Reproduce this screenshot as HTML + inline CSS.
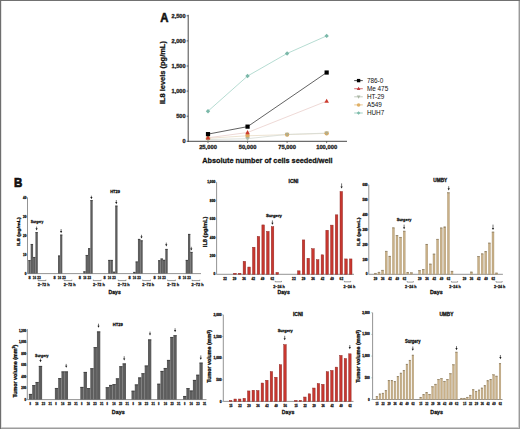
<!DOCTYPE html>
<html><head><meta charset="utf-8"><style>
html,body{margin:0;padding:0;background:#fff;}
body{width:520px;height:429px;overflow:hidden;}
svg{display:block;font-family:"Liberation Sans", sans-serif;}
</style></head><body>
<svg width="520" height="429" viewBox="0 0 520 429">
<rect x="0" y="0" width="520" height="429" fill="#fff"/>
<rect x="518" y="0" width="1" height="429" fill="#d2d2d2"/>
<rect x="0" y="427" width="520" height="1" fill="#cdcdcd"/>
<rect x="519" y="0" width="1" height="429" fill="#9a9a9a"/>
<rect x="0" y="428" width="520" height="1" fill="#9c9c9c"/>
<rect x="0" y="0" width="520" height="1" fill="#717171"/>
<rect x="0" y="0" width="1" height="429" fill="#6e6e6e"/>
<rect x="1" y="1" width="1" height="426" fill="#e4e4e4"/>
<text x="160.20" y="21.80" font-size="12.4" text-anchor="start" font-weight="bold" fill="#111" textLength="8.20" lengthAdjust="spacingAndGlyphs" stroke="#111" stroke-width="0.55">A</text>
<line x1="188.20" y1="14.80" x2="188.20" y2="141.80" stroke="#333" stroke-width="0.9"/>
<line x1="187.80" y1="141.30" x2="347.00" y2="141.30" stroke="#333" stroke-width="0.9"/>
<line x1="186.60" y1="15.80" x2="188.20" y2="15.80" stroke="#333" stroke-width="0.7"/>
<text x="185.60" y="17.80" font-size="5.6" text-anchor="end" font-weight="bold" fill="#222"  stroke="#222" stroke-width="0.28">2,500</text>
<line x1="186.60" y1="40.90" x2="188.20" y2="40.90" stroke="#333" stroke-width="0.7"/>
<text x="185.60" y="42.90" font-size="5.6" text-anchor="end" font-weight="bold" fill="#222"  stroke="#222" stroke-width="0.28">2,000</text>
<line x1="186.60" y1="66.00" x2="188.20" y2="66.00" stroke="#333" stroke-width="0.7"/>
<text x="185.60" y="68.00" font-size="5.6" text-anchor="end" font-weight="bold" fill="#222"  stroke="#222" stroke-width="0.28">1,500</text>
<line x1="186.60" y1="91.10" x2="188.20" y2="91.10" stroke="#333" stroke-width="0.7"/>
<text x="185.60" y="93.10" font-size="5.6" text-anchor="end" font-weight="bold" fill="#222"  stroke="#222" stroke-width="0.28">1,000</text>
<line x1="186.60" y1="116.20" x2="188.20" y2="116.20" stroke="#333" stroke-width="0.7"/>
<text x="185.60" y="118.20" font-size="5.6" text-anchor="end" font-weight="bold" fill="#222"  stroke="#222" stroke-width="0.28">500</text>
<line x1="186.60" y1="141.30" x2="188.20" y2="141.30" stroke="#333" stroke-width="0.7"/>
<text x="185.60" y="143.30" font-size="5.6" text-anchor="end" font-weight="bold" fill="#222"  stroke="#222" stroke-width="0.28">0</text>
<line x1="208.00" y1="141.30" x2="208.00" y2="143.10" stroke="#333" stroke-width="0.7"/>
<text x="208.00" y="149.30" font-size="5.8" text-anchor="middle" font-weight="bold" fill="#222"  stroke="#222" stroke-width="0.28">25,000</text>
<line x1="247.55" y1="141.30" x2="247.55" y2="143.10" stroke="#333" stroke-width="0.7"/>
<text x="247.55" y="149.30" font-size="5.8" text-anchor="middle" font-weight="bold" fill="#222"  stroke="#222" stroke-width="0.28">50,000</text>
<line x1="287.10" y1="141.30" x2="287.10" y2="143.10" stroke="#333" stroke-width="0.7"/>
<text x="287.10" y="149.30" font-size="5.8" text-anchor="middle" font-weight="bold" fill="#222"  stroke="#222" stroke-width="0.28">75,000</text>
<line x1="326.65" y1="141.30" x2="326.65" y2="143.10" stroke="#333" stroke-width="0.7"/>
<text x="326.65" y="149.30" font-size="5.8" text-anchor="middle" font-weight="bold" fill="#222"  stroke="#222" stroke-width="0.28">100,000</text>
<text transform="translate(165.10,72.60) rotate(-90)" font-size="7.3" text-anchor="middle" font-weight="bold" fill="#111" stroke="#111" stroke-width="0.28" textLength="63.00" lengthAdjust="spacingAndGlyphs">IL8 levels (pg/mL)</text>
<text x="267.45" y="162.60" font-size="8.0" text-anchor="middle" font-weight="bold" fill="#111" textLength="130.30" lengthAdjust="spacingAndGlyphs"  stroke="#111" stroke-width="0.28">Absolute number of cells seeded/well</text>
<polyline points="208.00,111.18 247.55,76.04 287.10,53.45 326.65,35.88" fill="none" stroke="#a3d3c6" stroke-width="0.8"/>
<polyline points="208.00,138.29 247.55,135.78 287.10,134.62 326.65,133.37" fill="none" stroke="#e8dcc6" stroke-width="0.8"/>
<polyline points="208.00,139.54 247.55,138.69 287.10,134.42 326.65,133.12" fill="none" stroke="#d6dbd3" stroke-width="0.8"/>
<polyline points="208.00,137.79 247.55,132.52 326.65,101.14" fill="none" stroke="#eacfcc" stroke-width="0.8"/>
<polyline points="208.00,134.12 247.55,126.64 326.65,72.53" fill="none" stroke="#3a3a3a" stroke-width="0.8"/>
<path d="M208.00 108.98 L210.20 111.18 L208.00 113.38 L205.80 111.18 Z" fill="#7bb8a9"/>
<path d="M247.55 73.84 L249.75 76.04 L247.55 78.24 L245.35 76.04 Z" fill="#7bb8a9"/>
<path d="M287.10 51.25 L289.30 53.45 L287.10 55.65 L284.90 53.45 Z" fill="#7bb8a9"/>
<path d="M326.65 33.68 L328.85 35.88 L326.65 38.08 L324.45 35.88 Z" fill="#7bb8a9"/>
<circle cx="208.00" cy="138.29" r="2.2" fill="#dfaa5e"/>
<circle cx="247.55" cy="135.78" r="2.2" fill="#dfaa5e"/>
<circle cx="287.10" cy="134.62" r="2.2" fill="#dfaa5e"/>
<circle cx="326.65" cy="133.37" r="2.2" fill="#dfaa5e"/>
<g opacity="0.75">
<path d="M208.00 142.04 L210.30 137.84 L205.70 137.84 Z" fill="#a3b09c"/>
<path d="M247.55 141.19 L249.85 136.99 L245.25 136.99 Z" fill="#a3b09c"/>
<path d="M287.10 136.92 L289.40 132.72 L284.80 132.72 Z" fill="#a3b09c"/>
<path d="M326.65 135.62 L328.95 131.42 L324.35 131.42 Z" fill="#a3b09c"/>
</g>
<path d="M208.00 135.29 L210.30 139.49 L205.70 139.49 Z" fill="#cc3b2e"/>
<path d="M247.55 130.02 L249.85 134.22 L245.25 134.22 Z" fill="#cc3b2e"/>
<path d="M326.65 98.64 L328.95 102.84 L324.35 102.84 Z" fill="#cc3b2e"/>
<rect x="205.90" y="132.02" width="4.20" height="4.20" fill="#000" stroke="none" stroke-width="0"/>
<rect x="245.45" y="124.54" width="4.20" height="4.20" fill="#000" stroke="none" stroke-width="0"/>
<rect x="324.55" y="70.43" width="4.20" height="4.20" fill="#000" stroke="none" stroke-width="0"/>
<line x1="354.20" y1="80.60" x2="362.80" y2="80.60" stroke="#000" stroke-width="0.7"/>
<g transform="translate(358.60,80.60) scale(0.8) translate(-358.60,-80.60)">
<rect x="356.50" y="78.50" width="4.20" height="4.20" fill="#000" stroke="none" stroke-width="0"/>
</g>
<text x="366.90" y="82.80" font-size="6.4" text-anchor="start" font-weight="normal" fill="#111" >786-0</text>
<line x1="354.20" y1="88.70" x2="362.80" y2="88.70" stroke="#c03a3c" stroke-width="0.7"/>
<g transform="translate(358.60,88.70) scale(0.8) translate(-358.60,-88.70)">
<path d="M358.60 86.20 L360.90 90.40 L356.30 90.40 Z" fill="#c03a3c"/>
</g>
<text x="366.90" y="90.90" font-size="6.4" text-anchor="start" font-weight="normal" fill="#111" >Me 475</text>
<line x1="354.20" y1="96.80" x2="362.80" y2="96.80" stroke="#aab6a4" stroke-width="0.7"/>
<g transform="translate(358.60,96.80) scale(0.8) translate(-358.60,-96.80)">
<path d="M358.60 99.30 L360.90 95.10 L356.30 95.10 Z" fill="#aab6a4"/>
</g>
<text x="366.90" y="99.00" font-size="6.4" text-anchor="start" font-weight="normal" fill="#111" >HT-29</text>
<line x1="354.20" y1="104.90" x2="362.80" y2="104.90" stroke="#e0b066" stroke-width="0.7"/>
<g transform="translate(358.60,104.90) scale(0.8) translate(-358.60,-104.90)">
<circle cx="358.60" cy="104.90" r="2.2" fill="#e0b066"/>
</g>
<text x="366.90" y="107.10" font-size="6.4" text-anchor="start" font-weight="normal" fill="#111" >A549</text>
<line x1="354.20" y1="113.00" x2="362.80" y2="113.00" stroke="#7dbcaa" stroke-width="0.7"/>
<g transform="translate(358.60,113.00) scale(0.8) translate(-358.60,-113.00)">
<path d="M358.60 110.80 L360.80 113.00 L358.60 115.20 L356.40 113.00 Z" fill="#7dbcaa"/>
</g>
<text x="366.90" y="115.20" font-size="6.4" text-anchor="start" font-weight="normal" fill="#111" >HUH7</text>
<text x="13.90" y="186.70" font-size="12.2" text-anchor="start" font-weight="bold" fill="#111" textLength="8.30" lengthAdjust="spacingAndGlyphs" stroke="#111" stroke-width="0.7">B</text>
<line x1="27.50" y1="197.50" x2="27.50" y2="273.60" stroke="#888" stroke-width="0.9"/>
<line x1="26.20" y1="197.50" x2="27.50" y2="197.50" stroke="#888" stroke-width="0.5"/>
<text x="26.30" y="198.54" font-size="2.9" text-anchor="end" font-weight="bold" fill="#1a1a1a"  stroke="#1a1a1a" stroke-width="0.28">40</text>
<line x1="26.20" y1="216.50" x2="27.50" y2="216.50" stroke="#888" stroke-width="0.5"/>
<text x="26.30" y="217.54" font-size="2.9" text-anchor="end" font-weight="bold" fill="#1a1a1a"  stroke="#1a1a1a" stroke-width="0.28">30</text>
<line x1="26.20" y1="235.50" x2="27.50" y2="235.50" stroke="#888" stroke-width="0.5"/>
<text x="26.30" y="236.54" font-size="2.9" text-anchor="end" font-weight="bold" fill="#1a1a1a"  stroke="#1a1a1a" stroke-width="0.28">20</text>
<line x1="26.20" y1="254.60" x2="27.50" y2="254.60" stroke="#888" stroke-width="0.5"/>
<text x="26.30" y="255.64" font-size="2.9" text-anchor="end" font-weight="bold" fill="#1a1a1a"  stroke="#1a1a1a" stroke-width="0.28">10</text>
<line x1="26.20" y1="273.60" x2="27.50" y2="273.60" stroke="#888" stroke-width="0.5"/>
<text x="26.30" y="274.64" font-size="2.9" text-anchor="end" font-weight="bold" fill="#1a1a1a"  stroke="#1a1a1a" stroke-width="0.28">0</text>
<line x1="27.50" y1="273.60" x2="201.00" y2="273.60" stroke="#888" stroke-width="0.9"/>
<rect x="28.30" y="260.20" width="2.38" height="13.40" fill="#5d5d5d" stroke="none" stroke-width="0"/>
<line x1="28.30" y1="260.55" x2="30.68" y2="260.55" stroke="#333" stroke-width="0.7"/>
<rect x="30.68" y="244.10" width="2.38" height="29.50" fill="#5d5d5d" stroke="none" stroke-width="0"/>
<line x1="30.68" y1="244.45" x2="33.05" y2="244.45" stroke="#333" stroke-width="0.7"/>
<rect x="33.05" y="257.10" width="2.38" height="16.50" fill="#5d5d5d" stroke="none" stroke-width="0"/>
<line x1="33.05" y1="257.45" x2="35.42" y2="257.45" stroke="#333" stroke-width="0.7"/>
<rect x="35.42" y="232.20" width="2.38" height="41.40" fill="#5d5d5d" stroke="none" stroke-width="0"/>
<line x1="35.42" y1="232.55" x2="37.80" y2="232.55" stroke="#333" stroke-width="0.7"/>
<line x1="30.68" y1="260.90" x2="30.68" y2="273.60" stroke="#808080" stroke-width="0.45"/>
<line x1="33.05" y1="257.80" x2="33.05" y2="273.60" stroke="#808080" stroke-width="0.45"/>
<line x1="35.42" y1="257.80" x2="35.42" y2="273.60" stroke="#808080" stroke-width="0.45"/>
<rect x="58.00" y="255.60" width="2.15" height="18.00" fill="#5d5d5d" stroke="none" stroke-width="0"/>
<line x1="58.00" y1="255.95" x2="60.15" y2="255.95" stroke="#333" stroke-width="0.7"/>
<rect x="60.15" y="234.70" width="2.15" height="38.90" fill="#5d5d5d" stroke="none" stroke-width="0"/>
<line x1="60.15" y1="235.05" x2="62.30" y2="235.05" stroke="#333" stroke-width="0.7"/>
<line x1="60.15" y1="256.30" x2="60.15" y2="273.60" stroke="#808080" stroke-width="0.45"/>
<rect x="83.30" y="271.40" width="2.35" height="2.20" fill="#5d5d5d" stroke="none" stroke-width="0"/>
<line x1="83.30" y1="271.75" x2="85.65" y2="271.75" stroke="#333" stroke-width="0.7"/>
<rect x="85.65" y="255.10" width="2.35" height="18.50" fill="#5d5d5d" stroke="none" stroke-width="0"/>
<line x1="85.65" y1="255.45" x2="88.00" y2="255.45" stroke="#333" stroke-width="0.7"/>
<rect x="88.00" y="248.30" width="2.35" height="25.30" fill="#5d5d5d" stroke="none" stroke-width="0"/>
<line x1="88.00" y1="248.65" x2="90.35" y2="248.65" stroke="#333" stroke-width="0.7"/>
<rect x="90.35" y="200.20" width="2.35" height="73.40" fill="#5d5d5d" stroke="none" stroke-width="0"/>
<line x1="90.35" y1="200.55" x2="92.70" y2="200.55" stroke="#333" stroke-width="0.7"/>
<line x1="85.65" y1="272.10" x2="85.65" y2="273.60" stroke="#808080" stroke-width="0.45"/>
<line x1="88.00" y1="255.80" x2="88.00" y2="273.60" stroke="#808080" stroke-width="0.45"/>
<line x1="90.35" y1="249.00" x2="90.35" y2="273.60" stroke="#808080" stroke-width="0.45"/>
<rect x="108.20" y="260.00" width="2.33" height="13.60" fill="#5d5d5d" stroke="none" stroke-width="0"/>
<line x1="108.20" y1="260.35" x2="110.53" y2="260.35" stroke="#333" stroke-width="0.7"/>
<rect x="110.53" y="260.00" width="2.33" height="13.60" fill="#5d5d5d" stroke="none" stroke-width="0"/>
<line x1="110.53" y1="260.35" x2="112.86" y2="260.35" stroke="#333" stroke-width="0.7"/>
<rect x="112.86" y="271.80" width="2.33" height="1.80" fill="#5d5d5d" stroke="none" stroke-width="0"/>
<line x1="112.86" y1="272.15" x2="115.19" y2="272.15" stroke="#333" stroke-width="0.7"/>
<rect x="115.19" y="205.70" width="2.33" height="67.90" fill="#5d5d5d" stroke="none" stroke-width="0"/>
<line x1="115.19" y1="206.05" x2="117.52" y2="206.05" stroke="#333" stroke-width="0.7"/>
<line x1="110.53" y1="260.70" x2="110.53" y2="273.60" stroke="#808080" stroke-width="0.45"/>
<line x1="112.86" y1="272.50" x2="112.86" y2="273.60" stroke="#808080" stroke-width="0.45"/>
<line x1="115.19" y1="272.50" x2="115.19" y2="273.60" stroke="#808080" stroke-width="0.45"/>
<rect x="133.20" y="272.00" width="2.38" height="1.60" fill="#5d5d5d" stroke="none" stroke-width="0"/>
<line x1="133.20" y1="272.35" x2="135.57" y2="272.35" stroke="#333" stroke-width="0.7"/>
<rect x="135.57" y="261.60" width="2.38" height="12.00" fill="#5d5d5d" stroke="none" stroke-width="0"/>
<line x1="135.57" y1="261.95" x2="137.95" y2="261.95" stroke="#333" stroke-width="0.7"/>
<rect x="137.95" y="239.00" width="2.38" height="34.60" fill="#5d5d5d" stroke="none" stroke-width="0"/>
<line x1="137.95" y1="239.35" x2="140.32" y2="239.35" stroke="#333" stroke-width="0.7"/>
<rect x="140.32" y="240.40" width="2.38" height="33.20" fill="#5d5d5d" stroke="none" stroke-width="0"/>
<line x1="140.32" y1="240.75" x2="142.70" y2="240.75" stroke="#333" stroke-width="0.7"/>
<line x1="135.57" y1="272.70" x2="135.57" y2="273.60" stroke="#808080" stroke-width="0.45"/>
<line x1="137.95" y1="262.30" x2="137.95" y2="273.60" stroke="#808080" stroke-width="0.45"/>
<line x1="140.32" y1="241.10" x2="140.32" y2="273.60" stroke="#808080" stroke-width="0.45"/>
<rect x="158.10" y="260.30" width="2.40" height="13.30" fill="#5d5d5d" stroke="none" stroke-width="0"/>
<line x1="158.10" y1="260.65" x2="160.50" y2="260.65" stroke="#333" stroke-width="0.7"/>
<rect x="160.50" y="258.60" width="2.40" height="15.00" fill="#5d5d5d" stroke="none" stroke-width="0"/>
<line x1="160.50" y1="258.95" x2="162.90" y2="258.95" stroke="#333" stroke-width="0.7"/>
<rect x="162.90" y="259.90" width="2.40" height="13.70" fill="#5d5d5d" stroke="none" stroke-width="0"/>
<line x1="162.90" y1="260.25" x2="165.30" y2="260.25" stroke="#333" stroke-width="0.7"/>
<rect x="165.30" y="249.00" width="2.40" height="24.60" fill="#5d5d5d" stroke="none" stroke-width="0"/>
<line x1="165.30" y1="249.35" x2="167.70" y2="249.35" stroke="#333" stroke-width="0.7"/>
<line x1="160.50" y1="261.00" x2="160.50" y2="273.60" stroke="#808080" stroke-width="0.45"/>
<line x1="162.90" y1="260.60" x2="162.90" y2="273.60" stroke="#808080" stroke-width="0.45"/>
<line x1="165.30" y1="260.60" x2="165.30" y2="273.60" stroke="#808080" stroke-width="0.45"/>
<rect x="185.70" y="260.00" width="2.30" height="13.60" fill="#5d5d5d" stroke="none" stroke-width="0"/>
<line x1="185.70" y1="260.35" x2="188.00" y2="260.35" stroke="#333" stroke-width="0.7"/>
<rect x="188.00" y="234.00" width="2.30" height="39.60" fill="#5d5d5d" stroke="none" stroke-width="0"/>
<line x1="188.00" y1="234.35" x2="190.30" y2="234.35" stroke="#333" stroke-width="0.7"/>
<rect x="190.30" y="252.00" width="2.30" height="21.60" fill="#5d5d5d" stroke="none" stroke-width="0"/>
<line x1="190.30" y1="252.35" x2="192.60" y2="252.35" stroke="#333" stroke-width="0.7"/>
<line x1="188.00" y1="260.70" x2="188.00" y2="273.60" stroke="#808080" stroke-width="0.45"/>
<line x1="190.30" y1="252.70" x2="190.30" y2="273.60" stroke="#808080" stroke-width="0.45"/>
<line x1="36.60" y1="226.60" x2="36.60" y2="228.80" stroke="#1a1a1a" stroke-width="0.6"/>
<path d="M35.50 228.30 L37.70 228.30 L36.60 230.40 Z" fill="#1a1a1a"/>
<line x1="61.10" y1="229.00" x2="61.10" y2="231.60" stroke="#1a1a1a" stroke-width="0.6"/>
<path d="M60.00 231.10 L62.20 231.10 L61.10 233.20 Z" fill="#1a1a1a"/>
<line x1="91.40" y1="195.70" x2="91.40" y2="197.60" stroke="#1a1a1a" stroke-width="0.6"/>
<path d="M90.30 197.10 L92.50 197.10 L91.40 199.20 Z" fill="#1a1a1a"/>
<line x1="116.30" y1="200.00" x2="116.30" y2="202.60" stroke="#1a1a1a" stroke-width="0.6"/>
<path d="M115.20 202.10 L117.40 202.10 L116.30 204.20 Z" fill="#1a1a1a"/>
<line x1="141.50" y1="234.80" x2="141.50" y2="237.00" stroke="#1a1a1a" stroke-width="0.6"/>
<path d="M140.40 236.50 L142.60 236.50 L141.50 238.60 Z" fill="#1a1a1a"/>
<line x1="166.30" y1="242.60" x2="166.30" y2="244.80" stroke="#1a1a1a" stroke-width="0.6"/>
<path d="M165.20 244.30 L167.40 244.30 L166.30 246.40 Z" fill="#1a1a1a"/>
<line x1="191.30" y1="246.80" x2="191.30" y2="249.00" stroke="#1a1a1a" stroke-width="0.6"/>
<path d="M190.20 248.50 L192.40 248.50 L191.30 250.60 Z" fill="#1a1a1a"/>
<text x="115.05" y="193.20" font-size="4.3" text-anchor="middle" font-weight="bold" fill="#111" textLength="9.70" lengthAdjust="spacingAndGlyphs"  stroke="#111" stroke-width="0.28">HT29</text>
<text x="37.00" y="223.10" font-size="4.3" text-anchor="middle" font-weight="bold" fill="#111" textLength="12.50" lengthAdjust="spacingAndGlyphs"  stroke="#111" stroke-width="0.28">Surgery</text>
<text x="29.50" y="278.80" font-size="3.9" text-anchor="middle" font-weight="bold" fill="#222"  stroke="#222" stroke-width="0.28">8</text>
<text x="34.40" y="278.80" font-size="3.9" text-anchor="middle" font-weight="bold" fill="#222" textLength="3.30" lengthAdjust="spacingAndGlyphs"  stroke="#222" stroke-width="0.28">16</text>
<text x="38.90" y="278.80" font-size="3.9" text-anchor="middle" font-weight="bold" fill="#222" textLength="3.50" lengthAdjust="spacingAndGlyphs"  stroke="#222" stroke-width="0.28">23</text>
<path d="M38.10 279.70 L38.10 280.60 L45.90 280.60 L45.90 279.70" fill="none" stroke="#333" stroke-width="0.5"/>
<text x="43.65" y="285.70" font-size="3.9" text-anchor="middle" font-weight="bold" fill="#222" textLength="11.90" lengthAdjust="spacingAndGlyphs"  stroke="#222" stroke-width="0.28">2–72 h</text>
<text x="54.60" y="278.80" font-size="3.9" text-anchor="middle" font-weight="bold" fill="#222"  stroke="#222" stroke-width="0.28">8</text>
<text x="59.50" y="278.80" font-size="3.9" text-anchor="middle" font-weight="bold" fill="#222" textLength="3.30" lengthAdjust="spacingAndGlyphs"  stroke="#222" stroke-width="0.28">16</text>
<text x="64.00" y="278.80" font-size="3.9" text-anchor="middle" font-weight="bold" fill="#222" textLength="3.50" lengthAdjust="spacingAndGlyphs"  stroke="#222" stroke-width="0.28">23</text>
<path d="M64.10 279.70 L64.10 280.60 L71.90 280.60 L71.90 279.70" fill="none" stroke="#333" stroke-width="0.5"/>
<text x="69.65" y="285.70" font-size="3.9" text-anchor="middle" font-weight="bold" fill="#222" textLength="11.90" lengthAdjust="spacingAndGlyphs"  stroke="#222" stroke-width="0.28">2–72 h</text>
<text x="79.90" y="278.80" font-size="3.9" text-anchor="middle" font-weight="bold" fill="#222"  stroke="#222" stroke-width="0.28">8</text>
<text x="84.80" y="278.80" font-size="3.9" text-anchor="middle" font-weight="bold" fill="#222" textLength="3.30" lengthAdjust="spacingAndGlyphs"  stroke="#222" stroke-width="0.28">16</text>
<text x="89.30" y="278.80" font-size="3.9" text-anchor="middle" font-weight="bold" fill="#222" textLength="3.50" lengthAdjust="spacingAndGlyphs"  stroke="#222" stroke-width="0.28">23</text>
<path d="M93.30 279.70 L93.30 280.60 L101.10 280.60 L101.10 279.70" fill="none" stroke="#333" stroke-width="0.5"/>
<text x="98.85" y="285.70" font-size="3.9" text-anchor="middle" font-weight="bold" fill="#222" textLength="11.90" lengthAdjust="spacingAndGlyphs"  stroke="#222" stroke-width="0.28">2–72 h</text>
<text x="104.60" y="278.80" font-size="3.9" text-anchor="middle" font-weight="bold" fill="#222"  stroke="#222" stroke-width="0.28">8</text>
<text x="109.50" y="278.80" font-size="3.9" text-anchor="middle" font-weight="bold" fill="#222" textLength="3.30" lengthAdjust="spacingAndGlyphs"  stroke="#222" stroke-width="0.28">16</text>
<text x="114.00" y="278.80" font-size="3.9" text-anchor="middle" font-weight="bold" fill="#222" textLength="3.50" lengthAdjust="spacingAndGlyphs"  stroke="#222" stroke-width="0.28">23</text>
<path d="M118.20 279.70 L118.20 280.60 L126.00 280.60 L126.00 279.70" fill="none" stroke="#333" stroke-width="0.5"/>
<text x="123.75" y="285.70" font-size="3.9" text-anchor="middle" font-weight="bold" fill="#222" textLength="11.90" lengthAdjust="spacingAndGlyphs"  stroke="#222" stroke-width="0.28">2–72 h</text>
<text x="129.60" y="278.80" font-size="3.9" text-anchor="middle" font-weight="bold" fill="#222"  stroke="#222" stroke-width="0.28">8</text>
<text x="134.50" y="278.80" font-size="3.9" text-anchor="middle" font-weight="bold" fill="#222" textLength="3.30" lengthAdjust="spacingAndGlyphs"  stroke="#222" stroke-width="0.28">16</text>
<text x="139.00" y="278.80" font-size="3.9" text-anchor="middle" font-weight="bold" fill="#222" textLength="3.50" lengthAdjust="spacingAndGlyphs"  stroke="#222" stroke-width="0.28">23</text>
<path d="M142.70 279.70 L142.70 280.60 L150.50 280.60 L150.50 279.70" fill="none" stroke="#333" stroke-width="0.5"/>
<text x="148.25" y="285.70" font-size="3.9" text-anchor="middle" font-weight="bold" fill="#222" textLength="11.90" lengthAdjust="spacingAndGlyphs"  stroke="#222" stroke-width="0.28">2–72 h</text>
<text x="154.60" y="278.80" font-size="3.9" text-anchor="middle" font-weight="bold" fill="#222"  stroke="#222" stroke-width="0.28">8</text>
<text x="159.50" y="278.80" font-size="3.9" text-anchor="middle" font-weight="bold" fill="#222" textLength="3.30" lengthAdjust="spacingAndGlyphs"  stroke="#222" stroke-width="0.28">16</text>
<text x="164.00" y="278.80" font-size="3.9" text-anchor="middle" font-weight="bold" fill="#222" textLength="3.50" lengthAdjust="spacingAndGlyphs"  stroke="#222" stroke-width="0.28">23</text>
<path d="M167.60 279.70 L167.60 280.60 L175.40 280.60 L175.40 279.70" fill="none" stroke="#333" stroke-width="0.5"/>
<text x="173.15" y="285.70" font-size="3.9" text-anchor="middle" font-weight="bold" fill="#222" textLength="11.90" lengthAdjust="spacingAndGlyphs"  stroke="#222" stroke-width="0.28">2–72 h</text>
<text x="179.60" y="278.80" font-size="3.9" text-anchor="middle" font-weight="bold" fill="#222"  stroke="#222" stroke-width="0.28">8</text>
<text x="184.50" y="278.80" font-size="3.9" text-anchor="middle" font-weight="bold" fill="#222" textLength="3.30" lengthAdjust="spacingAndGlyphs"  stroke="#222" stroke-width="0.28">16</text>
<text x="189.00" y="278.80" font-size="3.9" text-anchor="middle" font-weight="bold" fill="#222" textLength="3.50" lengthAdjust="spacingAndGlyphs"  stroke="#222" stroke-width="0.28">23</text>
<path d="M192.00 279.70 L192.00 280.60 L199.80 280.60 L199.80 279.70" fill="none" stroke="#333" stroke-width="0.5"/>
<text x="197.55" y="285.70" font-size="3.9" text-anchor="middle" font-weight="bold" fill="#222" textLength="11.90" lengthAdjust="spacingAndGlyphs"  stroke="#222" stroke-width="0.28">2–72 h</text>
<text transform="translate(19.65,231.60) rotate(-90)" font-size="4.0" text-anchor="middle" font-weight="bold" fill="#111" stroke="#111" stroke-width="0.28" textLength="29.00" lengthAdjust="spacingAndGlyphs">IL8 (pg/mL)</text>
<text x="114.65" y="293.80" font-size="5.6" text-anchor="middle" font-weight="bold" fill="#111" textLength="12.30" lengthAdjust="spacingAndGlyphs"  stroke="#111" stroke-width="0.28">Days</text>
<line x1="216.60" y1="182.20" x2="216.60" y2="274.30" stroke="#888" stroke-width="0.9"/>
<line x1="215.30" y1="182.20" x2="216.60" y2="182.20" stroke="#888" stroke-width="0.5"/>
<text x="215.20" y="183.35" font-size="3.2" text-anchor="end" font-weight="bold" fill="#1a1a1a"  stroke="#1a1a1a" stroke-width="0.28">1,000</text>
<line x1="215.30" y1="200.60" x2="216.60" y2="200.60" stroke="#888" stroke-width="0.5"/>
<text x="215.20" y="201.75" font-size="3.2" text-anchor="end" font-weight="bold" fill="#1a1a1a"  stroke="#1a1a1a" stroke-width="0.28">800</text>
<line x1="215.30" y1="219.00" x2="216.60" y2="219.00" stroke="#888" stroke-width="0.5"/>
<text x="215.20" y="220.15" font-size="3.2" text-anchor="end" font-weight="bold" fill="#1a1a1a"  stroke="#1a1a1a" stroke-width="0.28">600</text>
<line x1="215.30" y1="237.50" x2="216.60" y2="237.50" stroke="#888" stroke-width="0.5"/>
<text x="215.20" y="238.65" font-size="3.2" text-anchor="end" font-weight="bold" fill="#1a1a1a"  stroke="#1a1a1a" stroke-width="0.28">400</text>
<line x1="215.30" y1="255.90" x2="216.60" y2="255.90" stroke="#888" stroke-width="0.5"/>
<text x="215.20" y="257.05" font-size="3.2" text-anchor="end" font-weight="bold" fill="#1a1a1a"  stroke="#1a1a1a" stroke-width="0.28">200</text>
<line x1="215.30" y1="274.30" x2="216.60" y2="274.30" stroke="#888" stroke-width="0.5"/>
<text x="215.20" y="275.45" font-size="3.2" text-anchor="end" font-weight="bold" fill="#1a1a1a"  stroke="#1a1a1a" stroke-width="0.28">0</text>
<line x1="216.60" y1="274.30" x2="354.00" y2="274.30" stroke="#888" stroke-width="0.9"/>
<rect x="233.74" y="273.23" width="2.55" height="1.08" fill="#c8372f" stroke="#8c2622" stroke-width="0.45"/>
<rect x="238.43" y="273.23" width="2.55" height="1.08" fill="#c8372f" stroke="#8c2622" stroke-width="0.45"/>
<rect x="243.12" y="261.33" width="2.55" height="12.97" fill="#c8372f" stroke="#8c2622" stroke-width="0.45"/>
<rect x="247.81" y="267.03" width="2.55" height="7.28" fill="#c8372f" stroke="#8c2622" stroke-width="0.45"/>
<rect x="252.50" y="247.22" width="2.55" height="27.08" fill="#c8372f" stroke="#8c2622" stroke-width="0.45"/>
<rect x="257.19" y="236.42" width="2.55" height="37.88" fill="#c8372f" stroke="#8c2622" stroke-width="0.45"/>
<rect x="261.88" y="224.92" width="2.55" height="49.38" fill="#c8372f" stroke="#8c2622" stroke-width="0.45"/>
<rect x="266.58" y="231.42" width="2.55" height="42.88" fill="#c8372f" stroke="#8c2622" stroke-width="0.45"/>
<rect x="271.26" y="226.72" width="2.55" height="47.58" fill="#c8372f" stroke="#8c2622" stroke-width="0.45"/>
<rect x="275.96" y="272.43" width="2.55" height="1.88" fill="#c8372f" stroke="#8c2622" stroke-width="0.45"/>
<rect x="297.53" y="270.83" width="2.55" height="3.47" fill="#c8372f" stroke="#8c2622" stroke-width="0.45"/>
<rect x="302.25" y="239.92" width="2.55" height="34.38" fill="#c8372f" stroke="#8c2622" stroke-width="0.45"/>
<rect x="306.97" y="258.23" width="2.55" height="16.08" fill="#c8372f" stroke="#8c2622" stroke-width="0.45"/>
<rect x="311.69" y="248.72" width="2.55" height="25.58" fill="#c8372f" stroke="#8c2622" stroke-width="0.45"/>
<rect x="316.41" y="259.73" width="2.55" height="14.58" fill="#c8372f" stroke="#8c2622" stroke-width="0.45"/>
<rect x="321.13" y="254.82" width="2.55" height="19.48" fill="#c8372f" stroke="#8c2622" stroke-width="0.45"/>
<rect x="325.85" y="230.22" width="2.55" height="44.08" fill="#c8372f" stroke="#8c2622" stroke-width="0.45"/>
<rect x="330.57" y="225.12" width="2.55" height="49.18" fill="#c8372f" stroke="#8c2622" stroke-width="0.45"/>
<rect x="335.29" y="214.82" width="2.55" height="59.48" fill="#c8372f" stroke="#8c2622" stroke-width="0.45"/>
<rect x="340.01" y="191.53" width="2.55" height="82.78" fill="#c8372f" stroke="#8c2622" stroke-width="0.45"/>
<rect x="344.73" y="258.93" width="2.55" height="15.38" fill="#c8372f" stroke="#8c2622" stroke-width="0.45"/>
<rect x="349.45" y="258.93" width="2.55" height="15.38" fill="#c8372f" stroke="#8c2622" stroke-width="0.45"/>
<text x="293.55" y="182.50" font-size="4.7" text-anchor="middle" font-weight="bold" fill="#111" textLength="9.90" lengthAdjust="spacingAndGlyphs"  stroke="#111" stroke-width="0.28">ICNI</text>
<text x="273.95" y="217.00" font-size="4.3" text-anchor="middle" font-weight="bold" fill="#111" textLength="16.10" lengthAdjust="spacingAndGlyphs"  stroke="#111" stroke-width="0.28">Surgery</text>
<line x1="272.40" y1="220.40" x2="272.40" y2="223.20" stroke="#1a1a1a" stroke-width="0.6"/>
<path d="M271.30 222.70 L273.50 222.70 L272.40 224.80 Z" fill="#1a1a1a"/>
<line x1="341.60" y1="183.40" x2="341.60" y2="186.90" stroke="#1a1a1a" stroke-width="0.6"/>
<path d="M340.50 186.40 L342.70 186.40 L341.60 188.50 Z" fill="#1a1a1a"/>
<text x="225.00" y="279.70" font-size="3.7" text-anchor="middle" font-weight="bold" fill="#222" textLength="3.60" lengthAdjust="spacingAndGlyphs"  stroke="#222" stroke-width="0.28">22</text>
<text x="234.60" y="279.70" font-size="3.7" text-anchor="middle" font-weight="bold" fill="#222" textLength="3.60" lengthAdjust="spacingAndGlyphs"  stroke="#222" stroke-width="0.28">29</text>
<text x="244.00" y="279.70" font-size="3.7" text-anchor="middle" font-weight="bold" fill="#222" textLength="3.60" lengthAdjust="spacingAndGlyphs"  stroke="#222" stroke-width="0.28">36</text>
<text x="253.30" y="279.70" font-size="3.7" text-anchor="middle" font-weight="bold" fill="#222" textLength="3.60" lengthAdjust="spacingAndGlyphs"  stroke="#222" stroke-width="0.28">42</text>
<text x="262.60" y="279.70" font-size="3.7" text-anchor="middle" font-weight="bold" fill="#222" textLength="3.60" lengthAdjust="spacingAndGlyphs"  stroke="#222" stroke-width="0.28">49</text>
<text x="272.20" y="279.70" font-size="3.7" text-anchor="middle" font-weight="bold" fill="#222" textLength="3.60" lengthAdjust="spacingAndGlyphs"  stroke="#222" stroke-width="0.28">62</text>
<text x="293.90" y="279.70" font-size="3.7" text-anchor="middle" font-weight="bold" fill="#222" textLength="3.60" lengthAdjust="spacingAndGlyphs"  stroke="#222" stroke-width="0.28">22</text>
<text x="303.60" y="279.70" font-size="3.7" text-anchor="middle" font-weight="bold" fill="#222" textLength="3.60" lengthAdjust="spacingAndGlyphs"  stroke="#222" stroke-width="0.28">29</text>
<text x="313.00" y="279.70" font-size="3.7" text-anchor="middle" font-weight="bold" fill="#222" textLength="3.60" lengthAdjust="spacingAndGlyphs"  stroke="#222" stroke-width="0.28">36</text>
<text x="322.50" y="279.70" font-size="3.7" text-anchor="middle" font-weight="bold" fill="#222" textLength="3.60" lengthAdjust="spacingAndGlyphs"  stroke="#222" stroke-width="0.28">42</text>
<text x="332.00" y="279.70" font-size="3.7" text-anchor="middle" font-weight="bold" fill="#222" textLength="3.60" lengthAdjust="spacingAndGlyphs"  stroke="#222" stroke-width="0.28">49</text>
<text x="341.40" y="279.70" font-size="3.7" text-anchor="middle" font-weight="bold" fill="#222" textLength="3.60" lengthAdjust="spacingAndGlyphs"  stroke="#222" stroke-width="0.28">62</text>
<path d="M275.20 280.90 L275.20 281.80 L281.50 281.80 L281.50 280.90" fill="none" stroke="#333" stroke-width="0.5"/>
<text x="279.10" y="287.80" font-size="3.9" text-anchor="middle" font-weight="bold" fill="#222" textLength="11.60" lengthAdjust="spacingAndGlyphs"  stroke="#222" stroke-width="0.28">2–24 h</text>
<path d="M344.40 280.90 L344.40 281.80 L350.70 281.80 L350.70 280.90" fill="none" stroke="#333" stroke-width="0.5"/>
<text x="349.40" y="287.80" font-size="3.9" text-anchor="middle" font-weight="bold" fill="#222" textLength="11.60" lengthAdjust="spacingAndGlyphs"  stroke="#222" stroke-width="0.28">2–24 h</text>
<text x="283.65" y="293.80" font-size="5.6" text-anchor="middle" font-weight="bold" fill="#111" textLength="12.30" lengthAdjust="spacingAndGlyphs"  stroke="#111" stroke-width="0.28">Days</text>
<text transform="translate(206.85,231.90) rotate(-90)" font-size="4.6" text-anchor="middle" font-weight="bold" fill="#111" stroke="#111" stroke-width="0.28" textLength="30.60" lengthAdjust="spacingAndGlyphs">IL8 (pg/mL)</text>
<line x1="368.80" y1="184.80" x2="368.80" y2="274.30" stroke="#888" stroke-width="0.9"/>
<line x1="367.50" y1="184.80" x2="368.80" y2="184.80" stroke="#888" stroke-width="0.5"/>
<text x="367.60" y="185.92" font-size="3.1" text-anchor="end" font-weight="bold" fill="#1a1a1a"  stroke="#1a1a1a" stroke-width="0.28">600</text>
<line x1="367.50" y1="199.70" x2="368.80" y2="199.70" stroke="#888" stroke-width="0.5"/>
<text x="367.60" y="200.82" font-size="3.1" text-anchor="end" font-weight="bold" fill="#1a1a1a"  stroke="#1a1a1a" stroke-width="0.28">500</text>
<line x1="367.50" y1="214.60" x2="368.80" y2="214.60" stroke="#888" stroke-width="0.5"/>
<text x="367.60" y="215.72" font-size="3.1" text-anchor="end" font-weight="bold" fill="#1a1a1a"  stroke="#1a1a1a" stroke-width="0.28">400</text>
<line x1="367.50" y1="229.50" x2="368.80" y2="229.50" stroke="#888" stroke-width="0.5"/>
<text x="367.60" y="230.62" font-size="3.1" text-anchor="end" font-weight="bold" fill="#1a1a1a"  stroke="#1a1a1a" stroke-width="0.28">300</text>
<line x1="367.50" y1="244.50" x2="368.80" y2="244.50" stroke="#888" stroke-width="0.5"/>
<text x="367.60" y="245.62" font-size="3.1" text-anchor="end" font-weight="bold" fill="#1a1a1a"  stroke="#1a1a1a" stroke-width="0.28">200</text>
<line x1="367.50" y1="259.40" x2="368.80" y2="259.40" stroke="#888" stroke-width="0.5"/>
<text x="367.60" y="260.52" font-size="3.1" text-anchor="end" font-weight="bold" fill="#1a1a1a"  stroke="#1a1a1a" stroke-width="0.28">100</text>
<line x1="367.50" y1="274.30" x2="368.80" y2="274.30" stroke="#888" stroke-width="0.5"/>
<text x="367.60" y="275.42" font-size="3.1" text-anchor="end" font-weight="bold" fill="#1a1a1a"  stroke="#1a1a1a" stroke-width="0.28">0</text>
<line x1="368.80" y1="274.30" x2="502.90" y2="274.30" stroke="#888" stroke-width="0.9"/>
<rect x="374.43" y="273.30" width="1.95" height="1.00" fill="#c9b088" stroke="#a8926c" stroke-width="0.4"/>
<line x1="374.23" y1="273.45" x2="376.58" y2="273.45" stroke="#8a7c64" stroke-width="0.7"/>
<rect x="378.02" y="272.20" width="1.95" height="2.10" fill="#c9b088" stroke="#a8926c" stroke-width="0.4"/>
<line x1="377.82" y1="272.35" x2="380.18" y2="272.35" stroke="#8a7c64" stroke-width="0.7"/>
<rect x="381.62" y="270.20" width="1.95" height="4.10" fill="#c9b088" stroke="#a8926c" stroke-width="0.4"/>
<line x1="381.43" y1="270.35" x2="383.78" y2="270.35" stroke="#8a7c64" stroke-width="0.7"/>
<rect x="385.22" y="251.20" width="1.95" height="23.10" fill="#c9b088" stroke="#a8926c" stroke-width="0.4"/>
<line x1="385.02" y1="251.35" x2="387.38" y2="251.35" stroke="#8a7c64" stroke-width="0.7"/>
<rect x="388.82" y="256.20" width="1.95" height="18.10" fill="#c9b088" stroke="#a8926c" stroke-width="0.4"/>
<line x1="388.62" y1="256.35" x2="390.98" y2="256.35" stroke="#8a7c64" stroke-width="0.7"/>
<rect x="392.43" y="227.80" width="1.95" height="46.50" fill="#c9b088" stroke="#a8926c" stroke-width="0.4"/>
<line x1="392.23" y1="227.95" x2="394.58" y2="227.95" stroke="#8a7c64" stroke-width="0.7"/>
<rect x="396.02" y="235.40" width="1.95" height="38.90" fill="#c9b088" stroke="#a8926c" stroke-width="0.4"/>
<line x1="395.82" y1="235.55" x2="398.18" y2="235.55" stroke="#8a7c64" stroke-width="0.7"/>
<rect x="399.62" y="237.30" width="1.95" height="37.00" fill="#c9b088" stroke="#a8926c" stroke-width="0.4"/>
<line x1="399.43" y1="237.45" x2="401.78" y2="237.45" stroke="#8a7c64" stroke-width="0.7"/>
<rect x="403.22" y="231.10" width="1.95" height="43.20" fill="#c9b088" stroke="#a8926c" stroke-width="0.4"/>
<line x1="403.02" y1="231.25" x2="405.38" y2="231.25" stroke="#8a7c64" stroke-width="0.7"/>
<rect x="406.82" y="272.50" width="1.95" height="1.80" fill="#c9b088" stroke="#a8926c" stroke-width="0.4"/>
<line x1="406.62" y1="272.65" x2="408.98" y2="272.65" stroke="#8a7c64" stroke-width="0.7"/>
<rect x="410.43" y="272.80" width="1.95" height="1.50" fill="#c9b088" stroke="#a8926c" stroke-width="0.4"/>
<line x1="410.23" y1="272.95" x2="412.58" y2="272.95" stroke="#8a7c64" stroke-width="0.7"/>
<rect x="418.62" y="270.50" width="1.95" height="3.80" fill="#c9b088" stroke="#a8926c" stroke-width="0.4"/>
<line x1="418.43" y1="270.65" x2="420.78" y2="270.65" stroke="#8a7c64" stroke-width="0.7"/>
<rect x="422.22" y="269.40" width="1.95" height="4.90" fill="#c9b088" stroke="#a8926c" stroke-width="0.4"/>
<line x1="422.02" y1="269.55" x2="424.38" y2="269.55" stroke="#8a7c64" stroke-width="0.7"/>
<rect x="425.82" y="244.30" width="1.95" height="30.00" fill="#c9b088" stroke="#a8926c" stroke-width="0.4"/>
<line x1="425.62" y1="244.45" x2="427.98" y2="244.45" stroke="#8a7c64" stroke-width="0.7"/>
<rect x="429.42" y="264.00" width="1.95" height="10.30" fill="#c9b088" stroke="#a8926c" stroke-width="0.4"/>
<line x1="429.22" y1="264.15" x2="431.57" y2="264.15" stroke="#8a7c64" stroke-width="0.7"/>
<rect x="433.02" y="254.00" width="1.95" height="20.30" fill="#c9b088" stroke="#a8926c" stroke-width="0.4"/>
<line x1="432.82" y1="254.15" x2="435.18" y2="254.15" stroke="#8a7c64" stroke-width="0.7"/>
<rect x="436.62" y="239.20" width="1.95" height="35.10" fill="#c9b088" stroke="#a8926c" stroke-width="0.4"/>
<line x1="436.43" y1="239.35" x2="438.78" y2="239.35" stroke="#8a7c64" stroke-width="0.7"/>
<rect x="440.22" y="227.90" width="1.95" height="46.40" fill="#c9b088" stroke="#a8926c" stroke-width="0.4"/>
<line x1="440.02" y1="228.05" x2="442.38" y2="228.05" stroke="#8a7c64" stroke-width="0.7"/>
<rect x="443.82" y="226.90" width="1.95" height="47.40" fill="#c9b088" stroke="#a8926c" stroke-width="0.4"/>
<line x1="443.62" y1="227.05" x2="445.98" y2="227.05" stroke="#8a7c64" stroke-width="0.7"/>
<rect x="447.42" y="192.70" width="1.95" height="81.60" fill="#c9b088" stroke="#a8926c" stroke-width="0.4"/>
<line x1="447.22" y1="192.85" x2="449.57" y2="192.85" stroke="#8a7c64" stroke-width="0.7"/>
<rect x="451.02" y="271.20" width="1.95" height="3.10" fill="#c9b088" stroke="#a8926c" stroke-width="0.4"/>
<line x1="450.82" y1="271.35" x2="453.18" y2="271.35" stroke="#8a7c64" stroke-width="0.7"/>
<rect x="470.43" y="272.00" width="1.95" height="2.30" fill="#c9b088" stroke="#a8926c" stroke-width="0.4"/>
<line x1="470.23" y1="272.15" x2="472.58" y2="272.15" stroke="#8a7c64" stroke-width="0.7"/>
<rect x="477.62" y="256.40" width="1.95" height="17.90" fill="#c9b088" stroke="#a8926c" stroke-width="0.4"/>
<line x1="477.43" y1="256.55" x2="479.78" y2="256.55" stroke="#8a7c64" stroke-width="0.7"/>
<rect x="481.23" y="253.80" width="1.95" height="20.50" fill="#c9b088" stroke="#a8926c" stroke-width="0.4"/>
<line x1="481.03" y1="253.95" x2="483.38" y2="253.95" stroke="#8a7c64" stroke-width="0.7"/>
<rect x="484.82" y="251.50" width="1.95" height="22.80" fill="#c9b088" stroke="#a8926c" stroke-width="0.4"/>
<line x1="484.62" y1="251.65" x2="486.98" y2="251.65" stroke="#8a7c64" stroke-width="0.7"/>
<rect x="488.43" y="243.00" width="1.95" height="31.30" fill="#c9b088" stroke="#a8926c" stroke-width="0.4"/>
<line x1="488.23" y1="243.15" x2="490.58" y2="243.15" stroke="#8a7c64" stroke-width="0.7"/>
<rect x="492.02" y="232.00" width="1.95" height="42.30" fill="#c9b088" stroke="#a8926c" stroke-width="0.4"/>
<line x1="491.82" y1="232.15" x2="494.18" y2="232.15" stroke="#8a7c64" stroke-width="0.7"/>
<rect x="495.62" y="273.00" width="1.95" height="1.30" fill="#c9b088" stroke="#a8926c" stroke-width="0.4"/>
<line x1="495.43" y1="273.15" x2="497.78" y2="273.15" stroke="#8a7c64" stroke-width="0.7"/>
<text x="440.25" y="181.60" font-size="4.7" text-anchor="middle" font-weight="bold" fill="#111" textLength="13.90" lengthAdjust="spacingAndGlyphs"  stroke="#111" stroke-width="0.28">UMBY</text>
<text x="404.00" y="220.80" font-size="4.3" text-anchor="middle" font-weight="bold" fill="#111" textLength="14.60" lengthAdjust="spacingAndGlyphs"  stroke="#111" stroke-width="0.28">Surgery</text>
<line x1="404.10" y1="224.60" x2="404.10" y2="227.70" stroke="#1a1a1a" stroke-width="0.6"/>
<path d="M403.00 227.20 L405.20 227.20 L404.10 229.30 Z" fill="#1a1a1a"/>
<line x1="448.70" y1="186.20" x2="448.70" y2="188.80" stroke="#1a1a1a" stroke-width="0.6"/>
<path d="M447.60 188.30 L449.80 188.30 L448.70 190.40 Z" fill="#1a1a1a"/>
<line x1="493.00" y1="224.60" x2="493.00" y2="228.40" stroke="#1a1a1a" stroke-width="0.6"/>
<path d="M491.90 227.90 L494.10 227.90 L493.00 230.00 Z" fill="#1a1a1a"/>
<text x="375.60" y="279.70" font-size="3.7" text-anchor="middle" font-weight="bold" fill="#222" textLength="3.50" lengthAdjust="spacingAndGlyphs"  stroke="#222" stroke-width="0.28">29</text>
<text x="382.80" y="279.70" font-size="3.7" text-anchor="middle" font-weight="bold" fill="#222" textLength="3.50" lengthAdjust="spacingAndGlyphs"  stroke="#222" stroke-width="0.28">36</text>
<text x="390.00" y="279.70" font-size="3.7" text-anchor="middle" font-weight="bold" fill="#222" textLength="3.50" lengthAdjust="spacingAndGlyphs"  stroke="#222" stroke-width="0.28">42</text>
<text x="397.20" y="279.70" font-size="3.7" text-anchor="middle" font-weight="bold" fill="#222" textLength="3.50" lengthAdjust="spacingAndGlyphs"  stroke="#222" stroke-width="0.28">49</text>
<text x="404.40" y="279.70" font-size="3.7" text-anchor="middle" font-weight="bold" fill="#222" textLength="3.50" lengthAdjust="spacingAndGlyphs"  stroke="#222" stroke-width="0.28">62</text>
<path d="M407.20 281.20 L407.20 282.10 L413.40 282.10 L413.40 281.20" fill="none" stroke="#333" stroke-width="0.5"/>
<text x="410.80" y="288.20" font-size="3.9" text-anchor="middle" font-weight="bold" fill="#222" textLength="11.40" lengthAdjust="spacingAndGlyphs"  stroke="#222" stroke-width="0.28">2–24 h</text>
<text x="419.80" y="279.70" font-size="3.7" text-anchor="middle" font-weight="bold" fill="#222" textLength="3.50" lengthAdjust="spacingAndGlyphs"  stroke="#222" stroke-width="0.28">29</text>
<text x="427.00" y="279.70" font-size="3.7" text-anchor="middle" font-weight="bold" fill="#222" textLength="3.50" lengthAdjust="spacingAndGlyphs"  stroke="#222" stroke-width="0.28">36</text>
<text x="434.20" y="279.70" font-size="3.7" text-anchor="middle" font-weight="bold" fill="#222" textLength="3.50" lengthAdjust="spacingAndGlyphs"  stroke="#222" stroke-width="0.28">42</text>
<text x="441.40" y="279.70" font-size="3.7" text-anchor="middle" font-weight="bold" fill="#222" textLength="3.50" lengthAdjust="spacingAndGlyphs"  stroke="#222" stroke-width="0.28">49</text>
<text x="448.60" y="279.70" font-size="3.7" text-anchor="middle" font-weight="bold" fill="#222" textLength="3.50" lengthAdjust="spacingAndGlyphs"  stroke="#222" stroke-width="0.28">62</text>
<path d="M451.40 281.20 L451.40 282.10 L457.60 282.10 L457.60 281.20" fill="none" stroke="#333" stroke-width="0.5"/>
<text x="455.00" y="288.20" font-size="3.9" text-anchor="middle" font-weight="bold" fill="#222" textLength="11.40" lengthAdjust="spacingAndGlyphs"  stroke="#222" stroke-width="0.28">2–24 h</text>
<text x="464.40" y="279.70" font-size="3.7" text-anchor="middle" font-weight="bold" fill="#222" textLength="3.50" lengthAdjust="spacingAndGlyphs"  stroke="#222" stroke-width="0.28">29</text>
<text x="471.60" y="279.70" font-size="3.7" text-anchor="middle" font-weight="bold" fill="#222" textLength="3.50" lengthAdjust="spacingAndGlyphs"  stroke="#222" stroke-width="0.28">36</text>
<text x="478.80" y="279.70" font-size="3.7" text-anchor="middle" font-weight="bold" fill="#222" textLength="3.50" lengthAdjust="spacingAndGlyphs"  stroke="#222" stroke-width="0.28">42</text>
<text x="486.00" y="279.70" font-size="3.7" text-anchor="middle" font-weight="bold" fill="#222" textLength="3.50" lengthAdjust="spacingAndGlyphs"  stroke="#222" stroke-width="0.28">49</text>
<text x="493.20" y="279.70" font-size="3.7" text-anchor="middle" font-weight="bold" fill="#222" textLength="3.50" lengthAdjust="spacingAndGlyphs"  stroke="#222" stroke-width="0.28">62</text>
<path d="M496.00 281.20 L496.00 282.10 L502.20 282.10 L502.20 281.20" fill="none" stroke="#333" stroke-width="0.5"/>
<text x="499.60" y="288.20" font-size="3.9" text-anchor="middle" font-weight="bold" fill="#222" textLength="11.40" lengthAdjust="spacingAndGlyphs"  stroke="#222" stroke-width="0.28">2–24 h</text>
<text x="436.35" y="293.80" font-size="5.6" text-anchor="middle" font-weight="bold" fill="#111" textLength="12.70" lengthAdjust="spacingAndGlyphs"  stroke="#111" stroke-width="0.28">Days</text>
<text transform="translate(359.55,231.70) rotate(-90)" font-size="4.4" text-anchor="middle" font-weight="bold" fill="#111" stroke="#111" stroke-width="0.28" textLength="28.60" lengthAdjust="spacingAndGlyphs">IL8 (pg/mL)</text>
<line x1="27.30" y1="329.00" x2="27.30" y2="399.60" stroke="#888" stroke-width="0.9"/>
<line x1="26.00" y1="330.80" x2="27.30" y2="330.80" stroke="#888" stroke-width="0.5"/>
<text x="26.00" y="331.81" font-size="2.8" text-anchor="end" font-weight="bold" fill="#1a1a1a"  stroke="#1a1a1a" stroke-width="0.28">1,200</text>
<line x1="26.00" y1="342.30" x2="27.30" y2="342.30" stroke="#888" stroke-width="0.5"/>
<text x="26.00" y="343.31" font-size="2.8" text-anchor="end" font-weight="bold" fill="#1a1a1a"  stroke="#1a1a1a" stroke-width="0.28">1,000</text>
<line x1="26.00" y1="353.70" x2="27.30" y2="353.70" stroke="#888" stroke-width="0.5"/>
<text x="26.00" y="354.71" font-size="2.8" text-anchor="end" font-weight="bold" fill="#1a1a1a"  stroke="#1a1a1a" stroke-width="0.28">800</text>
<line x1="26.00" y1="365.20" x2="27.30" y2="365.20" stroke="#888" stroke-width="0.5"/>
<text x="26.00" y="366.21" font-size="2.8" text-anchor="end" font-weight="bold" fill="#1a1a1a"  stroke="#1a1a1a" stroke-width="0.28">600</text>
<line x1="26.00" y1="376.70" x2="27.30" y2="376.70" stroke="#888" stroke-width="0.5"/>
<text x="26.00" y="377.71" font-size="2.8" text-anchor="end" font-weight="bold" fill="#1a1a1a"  stroke="#1a1a1a" stroke-width="0.28">400</text>
<line x1="26.00" y1="388.10" x2="27.30" y2="388.10" stroke="#888" stroke-width="0.5"/>
<text x="26.00" y="389.11" font-size="2.8" text-anchor="end" font-weight="bold" fill="#1a1a1a"  stroke="#1a1a1a" stroke-width="0.28">200</text>
<line x1="26.00" y1="399.60" x2="27.30" y2="399.60" stroke="#888" stroke-width="0.5"/>
<text x="26.00" y="400.61" font-size="2.8" text-anchor="end" font-weight="bold" fill="#1a1a1a"  stroke="#1a1a1a" stroke-width="0.28">0</text>
<line x1="27.30" y1="399.60" x2="206.50" y2="399.60" stroke="#888" stroke-width="0.9"/>
<rect x="28.90" y="394.00" width="3.30" height="5.60" fill="#5d5d5d" stroke="none" stroke-width="0"/>
<line x1="28.90" y1="394.35" x2="32.20" y2="394.35" stroke="#333" stroke-width="0.7"/>
<rect x="32.20" y="385.20" width="3.30" height="14.40" fill="#5d5d5d" stroke="none" stroke-width="0"/>
<line x1="32.20" y1="385.55" x2="35.50" y2="385.55" stroke="#333" stroke-width="0.7"/>
<rect x="35.50" y="382.10" width="3.30" height="17.50" fill="#5d5d5d" stroke="none" stroke-width="0"/>
<line x1="35.50" y1="382.45" x2="38.80" y2="382.45" stroke="#333" stroke-width="0.7"/>
<rect x="38.80" y="366.00" width="3.30" height="33.60" fill="#5d5d5d" stroke="none" stroke-width="0"/>
<line x1="38.80" y1="366.35" x2="42.10" y2="366.35" stroke="#333" stroke-width="0.7"/>
<line x1="32.20" y1="394.70" x2="32.20" y2="399.60" stroke="#808080" stroke-width="0.45"/>
<line x1="35.50" y1="385.90" x2="35.50" y2="399.60" stroke="#808080" stroke-width="0.45"/>
<line x1="38.80" y1="382.80" x2="38.80" y2="399.60" stroke="#808080" stroke-width="0.45"/>
<rect x="54.90" y="388.10" width="3.28" height="11.50" fill="#5d5d5d" stroke="none" stroke-width="0"/>
<line x1="54.90" y1="388.45" x2="58.18" y2="388.45" stroke="#333" stroke-width="0.7"/>
<rect x="58.18" y="378.20" width="3.28" height="21.40" fill="#5d5d5d" stroke="none" stroke-width="0"/>
<line x1="58.18" y1="378.55" x2="61.46" y2="378.55" stroke="#333" stroke-width="0.7"/>
<rect x="61.46" y="371.50" width="3.28" height="28.10" fill="#5d5d5d" stroke="none" stroke-width="0"/>
<line x1="61.46" y1="371.85" x2="64.74" y2="371.85" stroke="#333" stroke-width="0.7"/>
<rect x="64.74" y="371.50" width="3.28" height="28.10" fill="#5d5d5d" stroke="none" stroke-width="0"/>
<line x1="64.74" y1="371.85" x2="68.02" y2="371.85" stroke="#333" stroke-width="0.7"/>
<line x1="58.18" y1="388.80" x2="58.18" y2="399.60" stroke="#808080" stroke-width="0.45"/>
<line x1="61.46" y1="378.90" x2="61.46" y2="399.60" stroke="#808080" stroke-width="0.45"/>
<line x1="64.74" y1="372.20" x2="64.74" y2="399.60" stroke="#808080" stroke-width="0.45"/>
<rect x="80.30" y="387.00" width="3.33" height="12.60" fill="#5d5d5d" stroke="none" stroke-width="0"/>
<line x1="80.30" y1="387.35" x2="83.63" y2="387.35" stroke="#333" stroke-width="0.7"/>
<rect x="83.63" y="372.00" width="3.33" height="27.60" fill="#5d5d5d" stroke="none" stroke-width="0"/>
<line x1="83.63" y1="372.35" x2="86.96" y2="372.35" stroke="#333" stroke-width="0.7"/>
<rect x="86.96" y="388.20" width="3.33" height="11.40" fill="#5d5d5d" stroke="none" stroke-width="0"/>
<line x1="86.96" y1="388.55" x2="90.29" y2="388.55" stroke="#333" stroke-width="0.7"/>
<rect x="90.29" y="368.30" width="3.33" height="31.30" fill="#5d5d5d" stroke="none" stroke-width="0"/>
<line x1="90.29" y1="368.65" x2="93.62" y2="368.65" stroke="#333" stroke-width="0.7"/>
<rect x="93.62" y="347.20" width="3.33" height="52.40" fill="#5d5d5d" stroke="none" stroke-width="0"/>
<line x1="93.62" y1="347.55" x2="96.95" y2="347.55" stroke="#333" stroke-width="0.7"/>
<rect x="96.95" y="331.50" width="3.33" height="68.10" fill="#5d5d5d" stroke="none" stroke-width="0"/>
<line x1="96.95" y1="331.85" x2="100.28" y2="331.85" stroke="#333" stroke-width="0.7"/>
<line x1="83.63" y1="387.70" x2="83.63" y2="399.60" stroke="#808080" stroke-width="0.45"/>
<line x1="86.96" y1="388.90" x2="86.96" y2="399.60" stroke="#808080" stroke-width="0.45"/>
<line x1="90.29" y1="388.90" x2="90.29" y2="399.60" stroke="#808080" stroke-width="0.45"/>
<line x1="93.62" y1="369.00" x2="93.62" y2="399.60" stroke="#808080" stroke-width="0.45"/>
<line x1="96.95" y1="347.90" x2="96.95" y2="399.60" stroke="#808080" stroke-width="0.45"/>
<rect x="105.70" y="387.30" width="3.38" height="12.30" fill="#5d5d5d" stroke="none" stroke-width="0"/>
<line x1="105.70" y1="387.65" x2="109.08" y2="387.65" stroke="#333" stroke-width="0.7"/>
<rect x="109.08" y="385.00" width="3.38" height="14.60" fill="#5d5d5d" stroke="none" stroke-width="0"/>
<line x1="109.08" y1="385.35" x2="112.46" y2="385.35" stroke="#333" stroke-width="0.7"/>
<rect x="112.46" y="384.20" width="3.38" height="15.40" fill="#5d5d5d" stroke="none" stroke-width="0"/>
<line x1="112.46" y1="384.55" x2="115.84" y2="384.55" stroke="#333" stroke-width="0.7"/>
<rect x="115.84" y="378.40" width="3.38" height="21.20" fill="#5d5d5d" stroke="none" stroke-width="0"/>
<line x1="115.84" y1="378.75" x2="119.22" y2="378.75" stroke="#333" stroke-width="0.7"/>
<rect x="119.22" y="366.30" width="3.38" height="33.30" fill="#5d5d5d" stroke="none" stroke-width="0"/>
<line x1="119.22" y1="366.65" x2="122.60" y2="366.65" stroke="#333" stroke-width="0.7"/>
<rect x="122.60" y="363.50" width="3.38" height="36.10" fill="#5d5d5d" stroke="none" stroke-width="0"/>
<line x1="122.60" y1="363.85" x2="125.98" y2="363.85" stroke="#333" stroke-width="0.7"/>
<line x1="109.08" y1="388.00" x2="109.08" y2="399.60" stroke="#808080" stroke-width="0.45"/>
<line x1="112.46" y1="385.70" x2="112.46" y2="399.60" stroke="#808080" stroke-width="0.45"/>
<line x1="115.84" y1="384.90" x2="115.84" y2="399.60" stroke="#808080" stroke-width="0.45"/>
<line x1="119.22" y1="379.10" x2="119.22" y2="399.60" stroke="#808080" stroke-width="0.45"/>
<line x1="122.60" y1="367.00" x2="122.60" y2="399.60" stroke="#808080" stroke-width="0.45"/>
<rect x="131.50" y="390.80" width="3.30" height="8.80" fill="#5d5d5d" stroke="none" stroke-width="0"/>
<line x1="131.50" y1="391.15" x2="134.80" y2="391.15" stroke="#333" stroke-width="0.7"/>
<rect x="134.80" y="384.50" width="3.30" height="15.10" fill="#5d5d5d" stroke="none" stroke-width="0"/>
<line x1="134.80" y1="384.85" x2="138.10" y2="384.85" stroke="#333" stroke-width="0.7"/>
<rect x="138.10" y="377.50" width="3.30" height="22.10" fill="#5d5d5d" stroke="none" stroke-width="0"/>
<line x1="138.10" y1="377.85" x2="141.40" y2="377.85" stroke="#333" stroke-width="0.7"/>
<rect x="141.40" y="373.30" width="3.30" height="26.30" fill="#5d5d5d" stroke="none" stroke-width="0"/>
<line x1="141.40" y1="373.65" x2="144.70" y2="373.65" stroke="#333" stroke-width="0.7"/>
<rect x="144.70" y="365.60" width="3.30" height="34.00" fill="#5d5d5d" stroke="none" stroke-width="0"/>
<line x1="144.70" y1="365.95" x2="148.00" y2="365.95" stroke="#333" stroke-width="0.7"/>
<rect x="148.00" y="339.50" width="3.30" height="60.10" fill="#5d5d5d" stroke="none" stroke-width="0"/>
<line x1="148.00" y1="339.85" x2="151.30" y2="339.85" stroke="#333" stroke-width="0.7"/>
<line x1="134.80" y1="391.50" x2="134.80" y2="399.60" stroke="#808080" stroke-width="0.45"/>
<line x1="138.10" y1="385.20" x2="138.10" y2="399.60" stroke="#808080" stroke-width="0.45"/>
<line x1="141.40" y1="378.20" x2="141.40" y2="399.60" stroke="#808080" stroke-width="0.45"/>
<line x1="144.70" y1="374.00" x2="144.70" y2="399.60" stroke="#808080" stroke-width="0.45"/>
<line x1="148.00" y1="366.30" x2="148.00" y2="399.60" stroke="#808080" stroke-width="0.45"/>
<rect x="157.20" y="383.80" width="3.25" height="15.80" fill="#5d5d5d" stroke="none" stroke-width="0"/>
<line x1="157.20" y1="384.15" x2="160.45" y2="384.15" stroke="#333" stroke-width="0.7"/>
<rect x="160.45" y="371.00" width="3.25" height="28.60" fill="#5d5d5d" stroke="none" stroke-width="0"/>
<line x1="160.45" y1="371.35" x2="163.70" y2="371.35" stroke="#333" stroke-width="0.7"/>
<rect x="163.70" y="368.10" width="3.25" height="31.50" fill="#5d5d5d" stroke="none" stroke-width="0"/>
<line x1="163.70" y1="368.45" x2="166.95" y2="368.45" stroke="#333" stroke-width="0.7"/>
<rect x="166.95" y="360.00" width="3.25" height="39.60" fill="#5d5d5d" stroke="none" stroke-width="0"/>
<line x1="166.95" y1="360.35" x2="170.20" y2="360.35" stroke="#333" stroke-width="0.7"/>
<rect x="170.20" y="337.10" width="3.25" height="62.50" fill="#5d5d5d" stroke="none" stroke-width="0"/>
<line x1="170.20" y1="337.45" x2="173.45" y2="337.45" stroke="#333" stroke-width="0.7"/>
<rect x="173.45" y="335.30" width="3.25" height="64.30" fill="#5d5d5d" stroke="none" stroke-width="0"/>
<line x1="173.45" y1="335.65" x2="176.70" y2="335.65" stroke="#333" stroke-width="0.7"/>
<line x1="160.45" y1="384.50" x2="160.45" y2="399.60" stroke="#808080" stroke-width="0.45"/>
<line x1="163.70" y1="371.70" x2="163.70" y2="399.60" stroke="#808080" stroke-width="0.45"/>
<line x1="166.95" y1="368.80" x2="166.95" y2="399.60" stroke="#808080" stroke-width="0.45"/>
<line x1="170.20" y1="360.70" x2="170.20" y2="399.60" stroke="#808080" stroke-width="0.45"/>
<line x1="173.45" y1="337.80" x2="173.45" y2="399.60" stroke="#808080" stroke-width="0.45"/>
<rect x="183.10" y="396.10" width="3.27" height="3.50" fill="#5d5d5d" stroke="none" stroke-width="0"/>
<line x1="183.10" y1="396.45" x2="186.37" y2="396.45" stroke="#333" stroke-width="0.7"/>
<rect x="186.37" y="388.20" width="3.27" height="11.40" fill="#5d5d5d" stroke="none" stroke-width="0"/>
<line x1="186.37" y1="388.55" x2="189.64" y2="388.55" stroke="#333" stroke-width="0.7"/>
<rect x="189.64" y="390.60" width="3.27" height="9.00" fill="#5d5d5d" stroke="none" stroke-width="0"/>
<line x1="189.64" y1="390.95" x2="192.91" y2="390.95" stroke="#333" stroke-width="0.7"/>
<rect x="192.91" y="380.00" width="3.27" height="19.60" fill="#5d5d5d" stroke="none" stroke-width="0"/>
<line x1="192.91" y1="380.35" x2="196.18" y2="380.35" stroke="#333" stroke-width="0.7"/>
<rect x="196.18" y="374.80" width="3.27" height="24.80" fill="#5d5d5d" stroke="none" stroke-width="0"/>
<line x1="196.18" y1="375.15" x2="199.45" y2="375.15" stroke="#333" stroke-width="0.7"/>
<rect x="199.45" y="362.70" width="3.27" height="36.90" fill="#5d5d5d" stroke="none" stroke-width="0"/>
<line x1="199.45" y1="363.05" x2="202.72" y2="363.05" stroke="#333" stroke-width="0.7"/>
<line x1="186.37" y1="396.80" x2="186.37" y2="399.60" stroke="#808080" stroke-width="0.45"/>
<line x1="189.64" y1="391.30" x2="189.64" y2="399.60" stroke="#808080" stroke-width="0.45"/>
<line x1="192.91" y1="391.30" x2="192.91" y2="399.60" stroke="#808080" stroke-width="0.45"/>
<line x1="196.18" y1="380.70" x2="196.18" y2="399.60" stroke="#808080" stroke-width="0.45"/>
<line x1="199.45" y1="375.50" x2="199.45" y2="399.60" stroke="#808080" stroke-width="0.45"/>
<text x="30.20" y="404.70" font-size="3.7" text-anchor="middle" font-weight="bold" fill="#222" textLength="1.40" lengthAdjust="spacingAndGlyphs"  stroke="#222" stroke-width="0.28">8</text>
<text x="36.85" y="404.70" font-size="3.7" text-anchor="middle" font-weight="bold" fill="#222" textLength="3.30" lengthAdjust="spacingAndGlyphs"  stroke="#222" stroke-width="0.28">16</text>
<text x="43.50" y="404.70" font-size="3.7" text-anchor="middle" font-weight="bold" fill="#222" textLength="3.30" lengthAdjust="spacingAndGlyphs"  stroke="#222" stroke-width="0.28">23</text>
<text x="50.15" y="404.70" font-size="3.7" text-anchor="middle" font-weight="bold" fill="#222" textLength="3.30" lengthAdjust="spacingAndGlyphs"  stroke="#222" stroke-width="0.28">31</text>
<text x="56.00" y="404.70" font-size="3.7" text-anchor="middle" font-weight="bold" fill="#222" textLength="1.40" lengthAdjust="spacingAndGlyphs"  stroke="#222" stroke-width="0.28">8</text>
<text x="62.65" y="404.70" font-size="3.7" text-anchor="middle" font-weight="bold" fill="#222" textLength="3.30" lengthAdjust="spacingAndGlyphs"  stroke="#222" stroke-width="0.28">16</text>
<text x="69.30" y="404.70" font-size="3.7" text-anchor="middle" font-weight="bold" fill="#222" textLength="3.30" lengthAdjust="spacingAndGlyphs"  stroke="#222" stroke-width="0.28">23</text>
<text x="75.95" y="404.70" font-size="3.7" text-anchor="middle" font-weight="bold" fill="#222" textLength="3.30" lengthAdjust="spacingAndGlyphs"  stroke="#222" stroke-width="0.28">31</text>
<text x="81.70" y="404.70" font-size="3.7" text-anchor="middle" font-weight="bold" fill="#222" textLength="1.40" lengthAdjust="spacingAndGlyphs"  stroke="#222" stroke-width="0.28">8</text>
<text x="88.35" y="404.70" font-size="3.7" text-anchor="middle" font-weight="bold" fill="#222" textLength="3.30" lengthAdjust="spacingAndGlyphs"  stroke="#222" stroke-width="0.28">16</text>
<text x="95.00" y="404.70" font-size="3.7" text-anchor="middle" font-weight="bold" fill="#222" textLength="3.30" lengthAdjust="spacingAndGlyphs"  stroke="#222" stroke-width="0.28">23</text>
<text x="101.65" y="404.70" font-size="3.7" text-anchor="middle" font-weight="bold" fill="#222" textLength="3.30" lengthAdjust="spacingAndGlyphs"  stroke="#222" stroke-width="0.28">31</text>
<text x="107.30" y="404.70" font-size="3.7" text-anchor="middle" font-weight="bold" fill="#222" textLength="1.40" lengthAdjust="spacingAndGlyphs"  stroke="#222" stroke-width="0.28">8</text>
<text x="113.95" y="404.70" font-size="3.7" text-anchor="middle" font-weight="bold" fill="#222" textLength="3.30" lengthAdjust="spacingAndGlyphs"  stroke="#222" stroke-width="0.28">16</text>
<text x="120.60" y="404.70" font-size="3.7" text-anchor="middle" font-weight="bold" fill="#222" textLength="3.30" lengthAdjust="spacingAndGlyphs"  stroke="#222" stroke-width="0.28">23</text>
<text x="127.25" y="404.70" font-size="3.7" text-anchor="middle" font-weight="bold" fill="#222" textLength="3.30" lengthAdjust="spacingAndGlyphs"  stroke="#222" stroke-width="0.28">31</text>
<text x="133.20" y="404.70" font-size="3.7" text-anchor="middle" font-weight="bold" fill="#222" textLength="1.40" lengthAdjust="spacingAndGlyphs"  stroke="#222" stroke-width="0.28">8</text>
<text x="139.85" y="404.70" font-size="3.7" text-anchor="middle" font-weight="bold" fill="#222" textLength="3.30" lengthAdjust="spacingAndGlyphs"  stroke="#222" stroke-width="0.28">16</text>
<text x="146.50" y="404.70" font-size="3.7" text-anchor="middle" font-weight="bold" fill="#222" textLength="3.30" lengthAdjust="spacingAndGlyphs"  stroke="#222" stroke-width="0.28">23</text>
<text x="153.15" y="404.70" font-size="3.7" text-anchor="middle" font-weight="bold" fill="#222" textLength="3.30" lengthAdjust="spacingAndGlyphs"  stroke="#222" stroke-width="0.28">31</text>
<text x="158.80" y="404.70" font-size="3.7" text-anchor="middle" font-weight="bold" fill="#222" textLength="1.40" lengthAdjust="spacingAndGlyphs"  stroke="#222" stroke-width="0.28">8</text>
<text x="165.45" y="404.70" font-size="3.7" text-anchor="middle" font-weight="bold" fill="#222" textLength="3.30" lengthAdjust="spacingAndGlyphs"  stroke="#222" stroke-width="0.28">16</text>
<text x="172.10" y="404.70" font-size="3.7" text-anchor="middle" font-weight="bold" fill="#222" textLength="3.30" lengthAdjust="spacingAndGlyphs"  stroke="#222" stroke-width="0.28">23</text>
<text x="178.75" y="404.70" font-size="3.7" text-anchor="middle" font-weight="bold" fill="#222" textLength="3.30" lengthAdjust="spacingAndGlyphs"  stroke="#222" stroke-width="0.28">31</text>
<text x="184.60" y="404.70" font-size="3.7" text-anchor="middle" font-weight="bold" fill="#222" textLength="1.40" lengthAdjust="spacingAndGlyphs"  stroke="#222" stroke-width="0.28">8</text>
<text x="191.25" y="404.70" font-size="3.7" text-anchor="middle" font-weight="bold" fill="#222" textLength="3.30" lengthAdjust="spacingAndGlyphs"  stroke="#222" stroke-width="0.28">16</text>
<text x="197.90" y="404.70" font-size="3.7" text-anchor="middle" font-weight="bold" fill="#222" textLength="3.30" lengthAdjust="spacingAndGlyphs"  stroke="#222" stroke-width="0.28">23</text>
<text x="204.55" y="404.70" font-size="3.7" text-anchor="middle" font-weight="bold" fill="#222" textLength="3.30" lengthAdjust="spacingAndGlyphs"  stroke="#222" stroke-width="0.28">31</text>
<text x="117.80" y="326.10" font-size="4.2" text-anchor="middle" font-weight="bold" fill="#111" textLength="10.00" lengthAdjust="spacingAndGlyphs"  stroke="#111" stroke-width="0.28">HT29</text>
<text x="41.80" y="357.30" font-size="4.2" text-anchor="middle" font-weight="bold" fill="#111" textLength="13.40" lengthAdjust="spacingAndGlyphs"  stroke="#111" stroke-width="0.28">Surgery</text>
<line x1="40.50" y1="358.60" x2="40.50" y2="360.60" stroke="#1a1a1a" stroke-width="0.6"/>
<path d="M39.40 360.10 L41.60 360.10 L40.50 362.20 Z" fill="#1a1a1a"/>
<line x1="66.20" y1="363.90" x2="66.20" y2="366.20" stroke="#1a1a1a" stroke-width="0.6"/>
<path d="M65.10 365.70 L67.30 365.70 L66.20 367.80 Z" fill="#1a1a1a"/>
<line x1="98.50" y1="323.70" x2="98.50" y2="326.20" stroke="#1a1a1a" stroke-width="0.6"/>
<path d="M97.40 325.70 L99.60 325.70 L98.50 327.80 Z" fill="#1a1a1a"/>
<line x1="124.20" y1="356.20" x2="124.20" y2="359.00" stroke="#1a1a1a" stroke-width="0.6"/>
<path d="M123.10 358.50 L125.30 358.50 L124.20 360.60 Z" fill="#1a1a1a"/>
<line x1="150.00" y1="331.60" x2="150.00" y2="334.00" stroke="#1a1a1a" stroke-width="0.6"/>
<path d="M148.90 333.50 L151.10 333.50 L150.00 335.60 Z" fill="#1a1a1a"/>
<line x1="175.10" y1="328.20" x2="175.10" y2="330.60" stroke="#1a1a1a" stroke-width="0.6"/>
<path d="M174.00 330.10 L176.20 330.10 L175.10 332.20 Z" fill="#1a1a1a"/>
<line x1="200.80" y1="355.40" x2="200.80" y2="358.20" stroke="#1a1a1a" stroke-width="0.6"/>
<path d="M199.70 357.70 L201.90 357.70 L200.80 359.80 Z" fill="#1a1a1a"/>
<text x="118.25" y="414.40" font-size="6.1" text-anchor="middle" font-weight="bold" fill="#111" textLength="12.90" lengthAdjust="spacingAndGlyphs"  stroke="#111" stroke-width="0.28">Days</text>
<text transform="translate(16.55,371.10) rotate(-90)" font-size="4.5" text-anchor="middle" font-weight="bold" fill="#111" stroke="#111" stroke-width="0.28" textLength="53.00" lengthAdjust="spacingAndGlyphs">Tumor volume (mm<tspan font-size="3.2" dy="-1.5">3</tspan><tspan dy="1.5">)</tspan></text>
<line x1="223.30" y1="314.80" x2="223.30" y2="401.40" stroke="#888" stroke-width="0.9"/>
<line x1="222.00" y1="314.80" x2="223.30" y2="314.80" stroke="#888" stroke-width="0.5"/>
<text x="221.70" y="315.99" font-size="3.3" text-anchor="end" font-weight="bold" fill="#1a1a1a"  stroke="#1a1a1a" stroke-width="0.28">2,000</text>
<line x1="222.00" y1="336.50" x2="223.30" y2="336.50" stroke="#888" stroke-width="0.5"/>
<text x="221.70" y="337.69" font-size="3.3" text-anchor="end" font-weight="bold" fill="#1a1a1a"  stroke="#1a1a1a" stroke-width="0.28">1,500</text>
<line x1="222.00" y1="358.10" x2="223.30" y2="358.10" stroke="#888" stroke-width="0.5"/>
<text x="221.70" y="359.29" font-size="3.3" text-anchor="end" font-weight="bold" fill="#1a1a1a"  stroke="#1a1a1a" stroke-width="0.28">1,000</text>
<line x1="222.00" y1="379.80" x2="223.30" y2="379.80" stroke="#888" stroke-width="0.5"/>
<text x="221.70" y="380.99" font-size="3.3" text-anchor="end" font-weight="bold" fill="#1a1a1a"  stroke="#1a1a1a" stroke-width="0.28">500</text>
<line x1="222.00" y1="401.40" x2="223.30" y2="401.40" stroke="#888" stroke-width="0.5"/>
<text x="221.70" y="402.59" font-size="3.3" text-anchor="end" font-weight="bold" fill="#1a1a1a"  stroke="#1a1a1a" stroke-width="0.28">0</text>
<line x1="223.30" y1="401.40" x2="353.50" y2="401.40" stroke="#888" stroke-width="0.9"/>
<rect x="229.41" y="400.43" width="2.45" height="0.97" fill="#c8372f" stroke="#8c2622" stroke-width="0.45"/>
<rect x="233.94" y="399.03" width="2.45" height="2.37" fill="#c8372f" stroke="#8c2622" stroke-width="0.45"/>
<rect x="238.47" y="399.03" width="2.45" height="2.37" fill="#c8372f" stroke="#8c2622" stroke-width="0.45"/>
<rect x="243.00" y="398.33" width="2.45" height="3.07" fill="#c8372f" stroke="#8c2622" stroke-width="0.45"/>
<rect x="247.53" y="390.93" width="2.45" height="10.47" fill="#c8372f" stroke="#8c2622" stroke-width="0.45"/>
<rect x="252.06" y="390.23" width="2.45" height="11.17" fill="#c8372f" stroke="#8c2622" stroke-width="0.45"/>
<rect x="256.59" y="390.53" width="2.45" height="10.87" fill="#c8372f" stroke="#8c2622" stroke-width="0.45"/>
<rect x="261.12" y="383.03" width="2.45" height="18.37" fill="#c8372f" stroke="#8c2622" stroke-width="0.45"/>
<rect x="265.65" y="380.23" width="2.45" height="21.17" fill="#c8372f" stroke="#8c2622" stroke-width="0.45"/>
<rect x="270.18" y="371.62" width="2.45" height="29.77" fill="#c8372f" stroke="#8c2622" stroke-width="0.45"/>
<rect x="274.71" y="377.23" width="2.45" height="24.17" fill="#c8372f" stroke="#8c2622" stroke-width="0.45"/>
<rect x="279.24" y="364.73" width="2.45" height="36.67" fill="#c8372f" stroke="#8c2622" stroke-width="0.45"/>
<rect x="283.77" y="344.62" width="2.45" height="56.77" fill="#c8372f" stroke="#8c2622" stroke-width="0.45"/>
<rect x="294.68" y="400.33" width="2.45" height="1.07" fill="#c8372f" stroke="#8c2622" stroke-width="0.45"/>
<rect x="299.18" y="400.33" width="2.45" height="1.07" fill="#c8372f" stroke="#8c2622" stroke-width="0.45"/>
<rect x="303.68" y="397.03" width="2.45" height="4.37" fill="#c8372f" stroke="#8c2622" stroke-width="0.45"/>
<rect x="308.18" y="393.83" width="2.45" height="7.57" fill="#c8372f" stroke="#8c2622" stroke-width="0.45"/>
<rect x="312.68" y="388.03" width="2.45" height="13.37" fill="#c8372f" stroke="#8c2622" stroke-width="0.45"/>
<rect x="317.18" y="383.53" width="2.45" height="17.87" fill="#c8372f" stroke="#8c2622" stroke-width="0.45"/>
<rect x="321.68" y="384.33" width="2.45" height="17.07" fill="#c8372f" stroke="#8c2622" stroke-width="0.45"/>
<rect x="326.18" y="371.73" width="2.45" height="29.67" fill="#c8372f" stroke="#8c2622" stroke-width="0.45"/>
<rect x="330.68" y="370.43" width="2.45" height="30.97" fill="#c8372f" stroke="#8c2622" stroke-width="0.45"/>
<rect x="335.18" y="367.12" width="2.45" height="34.27" fill="#c8372f" stroke="#8c2622" stroke-width="0.45"/>
<rect x="339.68" y="355.43" width="2.45" height="45.97" fill="#c8372f" stroke="#8c2622" stroke-width="0.45"/>
<rect x="344.18" y="358.53" width="2.45" height="42.87" fill="#c8372f" stroke="#8c2622" stroke-width="0.45"/>
<rect x="348.68" y="353.83" width="2.45" height="47.57" fill="#c8372f" stroke="#8c2622" stroke-width="0.45"/>
<text x="297.95" y="315.90" font-size="5.0" text-anchor="middle" font-weight="bold" fill="#111" textLength="10.10" lengthAdjust="spacingAndGlyphs"  stroke="#111" stroke-width="0.28">ICNI</text>
<text x="285.20" y="331.60" font-size="4.4" text-anchor="middle" font-weight="bold" fill="#111" textLength="15.00" lengthAdjust="spacingAndGlyphs"  stroke="#111" stroke-width="0.28">Surgery</text>
<line x1="284.70" y1="335.80" x2="284.70" y2="338.70" stroke="#1a1a1a" stroke-width="0.6"/>
<path d="M283.60 338.20 L285.80 338.20 L284.70 340.30 Z" fill="#1a1a1a"/>
<line x1="349.80" y1="345.00" x2="349.80" y2="347.60" stroke="#1a1a1a" stroke-width="0.6"/>
<path d="M348.70 347.10 L350.90 347.10 L349.80 349.20 Z" fill="#1a1a1a"/>
<text x="230.83" y="406.60" font-size="3.6" text-anchor="middle" font-weight="bold" fill="#222" textLength="3.40" lengthAdjust="spacingAndGlyphs"  stroke="#222" stroke-width="0.28">15</text>
<text x="239.89" y="406.60" font-size="3.6" text-anchor="middle" font-weight="bold" fill="#222" textLength="3.40" lengthAdjust="spacingAndGlyphs"  stroke="#222" stroke-width="0.28">22</text>
<text x="248.95" y="406.60" font-size="3.6" text-anchor="middle" font-weight="bold" fill="#222" textLength="3.40" lengthAdjust="spacingAndGlyphs"  stroke="#222" stroke-width="0.28">29</text>
<text x="258.01" y="406.60" font-size="3.6" text-anchor="middle" font-weight="bold" fill="#222" textLength="3.40" lengthAdjust="spacingAndGlyphs"  stroke="#222" stroke-width="0.28">36</text>
<text x="267.07" y="406.60" font-size="3.6" text-anchor="middle" font-weight="bold" fill="#222" textLength="3.40" lengthAdjust="spacingAndGlyphs"  stroke="#222" stroke-width="0.28">42</text>
<text x="276.13" y="406.60" font-size="3.6" text-anchor="middle" font-weight="bold" fill="#222" textLength="3.40" lengthAdjust="spacingAndGlyphs"  stroke="#222" stroke-width="0.28">49</text>
<text x="285.19" y="406.60" font-size="3.6" text-anchor="middle" font-weight="bold" fill="#222" textLength="3.40" lengthAdjust="spacingAndGlyphs"  stroke="#222" stroke-width="0.28">56</text>
<text x="296.10" y="406.60" font-size="3.6" text-anchor="middle" font-weight="bold" fill="#222" textLength="3.40" lengthAdjust="spacingAndGlyphs"  stroke="#222" stroke-width="0.28">15</text>
<text x="305.10" y="406.60" font-size="3.6" text-anchor="middle" font-weight="bold" fill="#222" textLength="3.40" lengthAdjust="spacingAndGlyphs"  stroke="#222" stroke-width="0.28">22</text>
<text x="314.10" y="406.60" font-size="3.6" text-anchor="middle" font-weight="bold" fill="#222" textLength="3.40" lengthAdjust="spacingAndGlyphs"  stroke="#222" stroke-width="0.28">29</text>
<text x="323.10" y="406.60" font-size="3.6" text-anchor="middle" font-weight="bold" fill="#222" textLength="3.40" lengthAdjust="spacingAndGlyphs"  stroke="#222" stroke-width="0.28">36</text>
<text x="332.10" y="406.60" font-size="3.6" text-anchor="middle" font-weight="bold" fill="#222" textLength="3.40" lengthAdjust="spacingAndGlyphs"  stroke="#222" stroke-width="0.28">42</text>
<text x="341.10" y="406.60" font-size="3.6" text-anchor="middle" font-weight="bold" fill="#222" textLength="3.40" lengthAdjust="spacingAndGlyphs"  stroke="#222" stroke-width="0.28">49</text>
<text x="350.10" y="406.60" font-size="3.6" text-anchor="middle" font-weight="bold" fill="#222" textLength="3.40" lengthAdjust="spacingAndGlyphs"  stroke="#222" stroke-width="0.28">62</text>
<text x="288.05" y="414.40" font-size="6.1" text-anchor="middle" font-weight="bold" fill="#111" textLength="12.50" lengthAdjust="spacingAndGlyphs"  stroke="#111" stroke-width="0.28">Days</text>
<text transform="translate(211.00,356.30) rotate(-90)" font-size="4.5" text-anchor="middle" font-weight="bold" fill="#111" stroke="#111" stroke-width="0.28" textLength="52.80" lengthAdjust="spacingAndGlyphs">Tumor volume (mm<tspan font-size="3.2" dy="-1.5">3</tspan><tspan dy="1.5">)</tspan></text>
<line x1="372.60" y1="312.70" x2="372.60" y2="399.50" stroke="#888" stroke-width="0.9"/>
<line x1="371.30" y1="312.70" x2="372.60" y2="312.70" stroke="#888" stroke-width="0.5"/>
<text x="369.70" y="313.78" font-size="3.0" text-anchor="end" font-weight="bold" fill="#1a1a1a"  stroke="#1a1a1a" stroke-width="0.28">2,000</text>
<line x1="371.30" y1="334.40" x2="372.60" y2="334.40" stroke="#888" stroke-width="0.5"/>
<text x="369.70" y="335.48" font-size="3.0" text-anchor="end" font-weight="bold" fill="#1a1a1a"  stroke="#1a1a1a" stroke-width="0.28">1,500</text>
<line x1="371.30" y1="356.10" x2="372.60" y2="356.10" stroke="#888" stroke-width="0.5"/>
<text x="369.70" y="357.18" font-size="3.0" text-anchor="end" font-weight="bold" fill="#1a1a1a"  stroke="#1a1a1a" stroke-width="0.28">1,000</text>
<line x1="371.30" y1="377.80" x2="372.60" y2="377.80" stroke="#888" stroke-width="0.5"/>
<text x="369.70" y="378.88" font-size="3.0" text-anchor="end" font-weight="bold" fill="#1a1a1a"  stroke="#1a1a1a" stroke-width="0.28">500</text>
<line x1="371.30" y1="399.50" x2="372.60" y2="399.50" stroke="#888" stroke-width="0.5"/>
<text x="369.70" y="400.58" font-size="3.0" text-anchor="end" font-weight="bold" fill="#1a1a1a"  stroke="#1a1a1a" stroke-width="0.28">0</text>
<line x1="372.60" y1="399.50" x2="502.50" y2="399.50" stroke="#888" stroke-width="0.9"/>
<rect x="376.07" y="396.50" width="1.65" height="3.00" fill="#c9b088" stroke="#a8926c" stroke-width="0.4"/>
<line x1="375.88" y1="396.65" x2="377.92" y2="396.65" stroke="#8a7c64" stroke-width="0.7"/>
<rect x="379.07" y="393.90" width="1.65" height="5.60" fill="#c9b088" stroke="#a8926c" stroke-width="0.4"/>
<line x1="378.88" y1="394.05" x2="380.92" y2="394.05" stroke="#8a7c64" stroke-width="0.7"/>
<rect x="382.07" y="393.20" width="1.65" height="6.30" fill="#c9b088" stroke="#a8926c" stroke-width="0.4"/>
<line x1="381.88" y1="393.35" x2="383.92" y2="393.35" stroke="#8a7c64" stroke-width="0.7"/>
<rect x="385.07" y="390.50" width="1.65" height="9.00" fill="#c9b088" stroke="#a8926c" stroke-width="0.4"/>
<line x1="384.88" y1="390.65" x2="386.92" y2="390.65" stroke="#8a7c64" stroke-width="0.7"/>
<rect x="388.07" y="380.40" width="1.65" height="19.10" fill="#c9b088" stroke="#a8926c" stroke-width="0.4"/>
<line x1="387.88" y1="380.55" x2="389.92" y2="380.55" stroke="#8a7c64" stroke-width="0.7"/>
<rect x="391.07" y="380.40" width="1.65" height="19.10" fill="#c9b088" stroke="#a8926c" stroke-width="0.4"/>
<line x1="390.88" y1="380.55" x2="392.92" y2="380.55" stroke="#8a7c64" stroke-width="0.7"/>
<rect x="394.07" y="381.50" width="1.65" height="18.00" fill="#c9b088" stroke="#a8926c" stroke-width="0.4"/>
<line x1="393.88" y1="381.65" x2="395.92" y2="381.65" stroke="#8a7c64" stroke-width="0.7"/>
<rect x="397.07" y="376.40" width="1.65" height="23.10" fill="#c9b088" stroke="#a8926c" stroke-width="0.4"/>
<line x1="396.88" y1="376.55" x2="398.92" y2="376.55" stroke="#8a7c64" stroke-width="0.7"/>
<rect x="400.07" y="373.10" width="1.65" height="26.40" fill="#c9b088" stroke="#a8926c" stroke-width="0.4"/>
<line x1="399.88" y1="373.25" x2="401.92" y2="373.25" stroke="#8a7c64" stroke-width="0.7"/>
<rect x="403.07" y="370.40" width="1.65" height="29.10" fill="#c9b088" stroke="#a8926c" stroke-width="0.4"/>
<line x1="402.88" y1="370.55" x2="404.92" y2="370.55" stroke="#8a7c64" stroke-width="0.7"/>
<rect x="406.07" y="364.20" width="1.65" height="35.30" fill="#c9b088" stroke="#a8926c" stroke-width="0.4"/>
<line x1="405.88" y1="364.35" x2="407.92" y2="364.35" stroke="#8a7c64" stroke-width="0.7"/>
<rect x="409.07" y="360.30" width="1.65" height="39.20" fill="#c9b088" stroke="#a8926c" stroke-width="0.4"/>
<line x1="408.88" y1="360.45" x2="410.92" y2="360.45" stroke="#8a7c64" stroke-width="0.7"/>
<rect x="412.07" y="355.10" width="1.65" height="44.40" fill="#c9b088" stroke="#a8926c" stroke-width="0.4"/>
<line x1="411.88" y1="355.25" x2="413.92" y2="355.25" stroke="#8a7c64" stroke-width="0.7"/>
<rect x="419.86" y="397.30" width="1.65" height="2.20" fill="#c9b088" stroke="#a8926c" stroke-width="0.4"/>
<line x1="419.66" y1="397.45" x2="421.70" y2="397.45" stroke="#8a7c64" stroke-width="0.7"/>
<rect x="422.83" y="394.50" width="1.65" height="5.00" fill="#c9b088" stroke="#a8926c" stroke-width="0.4"/>
<line x1="422.63" y1="394.65" x2="424.68" y2="394.65" stroke="#8a7c64" stroke-width="0.7"/>
<rect x="425.81" y="392.40" width="1.65" height="7.10" fill="#c9b088" stroke="#a8926c" stroke-width="0.4"/>
<line x1="425.62" y1="392.55" x2="427.66" y2="392.55" stroke="#8a7c64" stroke-width="0.7"/>
<rect x="428.80" y="394.40" width="1.65" height="5.10" fill="#c9b088" stroke="#a8926c" stroke-width="0.4"/>
<line x1="428.60" y1="394.55" x2="430.64" y2="394.55" stroke="#8a7c64" stroke-width="0.7"/>
<rect x="431.77" y="386.70" width="1.65" height="12.80" fill="#c9b088" stroke="#a8926c" stroke-width="0.4"/>
<line x1="431.57" y1="386.85" x2="433.62" y2="386.85" stroke="#8a7c64" stroke-width="0.7"/>
<rect x="434.75" y="384.20" width="1.65" height="15.30" fill="#c9b088" stroke="#a8926c" stroke-width="0.4"/>
<line x1="434.56" y1="384.35" x2="436.60" y2="384.35" stroke="#8a7c64" stroke-width="0.7"/>
<rect x="437.74" y="379.40" width="1.65" height="20.10" fill="#c9b088" stroke="#a8926c" stroke-width="0.4"/>
<line x1="437.54" y1="379.55" x2="439.58" y2="379.55" stroke="#8a7c64" stroke-width="0.7"/>
<rect x="440.71" y="378.50" width="1.65" height="21.00" fill="#c9b088" stroke="#a8926c" stroke-width="0.4"/>
<line x1="440.51" y1="378.65" x2="442.56" y2="378.65" stroke="#8a7c64" stroke-width="0.7"/>
<rect x="443.69" y="381.30" width="1.65" height="18.20" fill="#c9b088" stroke="#a8926c" stroke-width="0.4"/>
<line x1="443.50" y1="381.45" x2="445.54" y2="381.45" stroke="#8a7c64" stroke-width="0.7"/>
<rect x="446.68" y="379.40" width="1.65" height="20.10" fill="#c9b088" stroke="#a8926c" stroke-width="0.4"/>
<line x1="446.48" y1="379.55" x2="448.52" y2="379.55" stroke="#8a7c64" stroke-width="0.7"/>
<rect x="449.66" y="373.60" width="1.65" height="25.90" fill="#c9b088" stroke="#a8926c" stroke-width="0.4"/>
<line x1="449.46" y1="373.75" x2="451.50" y2="373.75" stroke="#8a7c64" stroke-width="0.7"/>
<rect x="452.63" y="364.70" width="1.65" height="34.80" fill="#c9b088" stroke="#a8926c" stroke-width="0.4"/>
<line x1="452.44" y1="364.85" x2="454.48" y2="364.85" stroke="#8a7c64" stroke-width="0.7"/>
<rect x="455.62" y="352.10" width="1.65" height="47.40" fill="#c9b088" stroke="#a8926c" stroke-width="0.4"/>
<line x1="455.42" y1="352.25" x2="457.46" y2="352.25" stroke="#8a7c64" stroke-width="0.7"/>
<rect x="460.68" y="398.30" width="1.65" height="1.20" fill="#c9b088" stroke="#a8926c" stroke-width="0.4"/>
<line x1="460.48" y1="398.45" x2="462.52" y2="398.45" stroke="#8a7c64" stroke-width="0.7"/>
<rect x="463.60" y="398.30" width="1.65" height="1.20" fill="#c9b088" stroke="#a8926c" stroke-width="0.4"/>
<line x1="463.40" y1="398.45" x2="465.44" y2="398.45" stroke="#8a7c64" stroke-width="0.7"/>
<rect x="466.51" y="397.30" width="1.65" height="2.20" fill="#c9b088" stroke="#a8926c" stroke-width="0.4"/>
<line x1="466.31" y1="397.45" x2="468.36" y2="397.45" stroke="#8a7c64" stroke-width="0.7"/>
<rect x="469.44" y="395.20" width="1.65" height="4.30" fill="#c9b088" stroke="#a8926c" stroke-width="0.4"/>
<line x1="469.24" y1="395.35" x2="471.28" y2="395.35" stroke="#8a7c64" stroke-width="0.7"/>
<rect x="472.36" y="389.60" width="1.65" height="9.90" fill="#c9b088" stroke="#a8926c" stroke-width="0.4"/>
<line x1="472.16" y1="389.75" x2="474.20" y2="389.75" stroke="#8a7c64" stroke-width="0.7"/>
<rect x="475.28" y="391.30" width="1.65" height="8.20" fill="#c9b088" stroke="#a8926c" stroke-width="0.4"/>
<line x1="475.08" y1="391.45" x2="477.12" y2="391.45" stroke="#8a7c64" stroke-width="0.7"/>
<rect x="478.19" y="390.00" width="1.65" height="9.50" fill="#c9b088" stroke="#a8926c" stroke-width="0.4"/>
<line x1="478.00" y1="390.15" x2="480.04" y2="390.15" stroke="#8a7c64" stroke-width="0.7"/>
<rect x="481.12" y="388.00" width="1.65" height="11.50" fill="#c9b088" stroke="#a8926c" stroke-width="0.4"/>
<line x1="480.92" y1="388.15" x2="482.96" y2="388.15" stroke="#8a7c64" stroke-width="0.7"/>
<rect x="484.04" y="385.60" width="1.65" height="13.90" fill="#c9b088" stroke="#a8926c" stroke-width="0.4"/>
<line x1="483.84" y1="385.75" x2="485.88" y2="385.75" stroke="#8a7c64" stroke-width="0.7"/>
<rect x="486.95" y="380.70" width="1.65" height="18.80" fill="#c9b088" stroke="#a8926c" stroke-width="0.4"/>
<line x1="486.75" y1="380.85" x2="488.80" y2="380.85" stroke="#8a7c64" stroke-width="0.7"/>
<rect x="489.88" y="379.40" width="1.65" height="20.10" fill="#c9b088" stroke="#a8926c" stroke-width="0.4"/>
<line x1="489.68" y1="379.55" x2="491.72" y2="379.55" stroke="#8a7c64" stroke-width="0.7"/>
<rect x="492.80" y="374.80" width="1.65" height="24.70" fill="#c9b088" stroke="#a8926c" stroke-width="0.4"/>
<line x1="492.60" y1="374.95" x2="494.64" y2="374.95" stroke="#8a7c64" stroke-width="0.7"/>
<rect x="495.72" y="376.10" width="1.65" height="23.40" fill="#c9b088" stroke="#a8926c" stroke-width="0.4"/>
<line x1="495.52" y1="376.25" x2="497.56" y2="376.25" stroke="#8a7c64" stroke-width="0.7"/>
<rect x="499.18" y="363.50" width="1.65" height="36.00" fill="#c9b088" stroke="#a8926c" stroke-width="0.4"/>
<line x1="498.98" y1="363.65" x2="501.02" y2="363.65" stroke="#8a7c64" stroke-width="0.7"/>
<text x="446.45" y="315.90" font-size="5.0" text-anchor="middle" font-weight="bold" fill="#111" textLength="14.10" lengthAdjust="spacingAndGlyphs"  stroke="#111" stroke-width="0.28">UMBY</text>
<text x="412.75" y="342.70" font-size="4.6" text-anchor="middle" font-weight="bold" fill="#111" textLength="15.50" lengthAdjust="spacingAndGlyphs"  stroke="#111" stroke-width="0.28">Surgery</text>
<line x1="412.80" y1="346.50" x2="412.80" y2="349.20" stroke="#1a1a1a" stroke-width="0.6"/>
<path d="M411.70 348.70 L413.90 348.70 L412.80 350.80 Z" fill="#1a1a1a"/>
<line x1="456.50" y1="346.10" x2="456.50" y2="348.60" stroke="#1a1a1a" stroke-width="0.6"/>
<path d="M455.40 348.10 L457.60 348.10 L456.50 350.20 Z" fill="#1a1a1a"/>
<line x1="500.40" y1="355.00" x2="500.40" y2="357.60" stroke="#1a1a1a" stroke-width="0.6"/>
<path d="M499.30 357.10 L501.50 357.10 L500.40 359.20 Z" fill="#1a1a1a"/>
<text x="377.10" y="405.40" font-size="3.5" text-anchor="middle" font-weight="bold" fill="#222" textLength="3.20" lengthAdjust="spacingAndGlyphs"  stroke="#222" stroke-width="0.28">15</text>
<text x="420.88" y="405.40" font-size="3.5" text-anchor="middle" font-weight="bold" fill="#222" textLength="3.20" lengthAdjust="spacingAndGlyphs"  stroke="#222" stroke-width="0.28">15</text>
<text x="464.72" y="405.40" font-size="3.5" text-anchor="middle" font-weight="bold" fill="#222" textLength="3.20" lengthAdjust="spacingAndGlyphs"  stroke="#222" stroke-width="0.28">15</text>
<text x="383.10" y="405.40" font-size="3.5" text-anchor="middle" font-weight="bold" fill="#222" textLength="3.20" lengthAdjust="spacingAndGlyphs"  stroke="#222" stroke-width="0.28">22</text>
<text x="426.84" y="405.40" font-size="3.5" text-anchor="middle" font-weight="bold" fill="#222" textLength="3.20" lengthAdjust="spacingAndGlyphs"  stroke="#222" stroke-width="0.28">22</text>
<text x="470.56" y="405.40" font-size="3.5" text-anchor="middle" font-weight="bold" fill="#222" textLength="3.20" lengthAdjust="spacingAndGlyphs"  stroke="#222" stroke-width="0.28">22</text>
<text x="389.10" y="405.40" font-size="3.5" text-anchor="middle" font-weight="bold" fill="#222" textLength="3.20" lengthAdjust="spacingAndGlyphs"  stroke="#222" stroke-width="0.28">29</text>
<text x="432.80" y="405.40" font-size="3.5" text-anchor="middle" font-weight="bold" fill="#222" textLength="3.20" lengthAdjust="spacingAndGlyphs"  stroke="#222" stroke-width="0.28">29</text>
<text x="476.40" y="405.40" font-size="3.5" text-anchor="middle" font-weight="bold" fill="#222" textLength="3.20" lengthAdjust="spacingAndGlyphs"  stroke="#222" stroke-width="0.28">29</text>
<text x="395.10" y="405.40" font-size="3.5" text-anchor="middle" font-weight="bold" fill="#222" textLength="3.20" lengthAdjust="spacingAndGlyphs"  stroke="#222" stroke-width="0.28">36</text>
<text x="438.76" y="405.40" font-size="3.5" text-anchor="middle" font-weight="bold" fill="#222" textLength="3.20" lengthAdjust="spacingAndGlyphs"  stroke="#222" stroke-width="0.28">36</text>
<text x="482.24" y="405.40" font-size="3.5" text-anchor="middle" font-weight="bold" fill="#222" textLength="3.20" lengthAdjust="spacingAndGlyphs"  stroke="#222" stroke-width="0.28">36</text>
<text x="401.10" y="405.40" font-size="3.5" text-anchor="middle" font-weight="bold" fill="#222" textLength="3.20" lengthAdjust="spacingAndGlyphs"  stroke="#222" stroke-width="0.28">42</text>
<text x="444.72" y="405.40" font-size="3.5" text-anchor="middle" font-weight="bold" fill="#222" textLength="3.20" lengthAdjust="spacingAndGlyphs"  stroke="#222" stroke-width="0.28">42</text>
<text x="488.08" y="405.40" font-size="3.5" text-anchor="middle" font-weight="bold" fill="#222" textLength="3.20" lengthAdjust="spacingAndGlyphs"  stroke="#222" stroke-width="0.28">42</text>
<text x="407.10" y="405.40" font-size="3.5" text-anchor="middle" font-weight="bold" fill="#222" textLength="3.20" lengthAdjust="spacingAndGlyphs"  stroke="#222" stroke-width="0.28">49</text>
<text x="450.68" y="405.40" font-size="3.5" text-anchor="middle" font-weight="bold" fill="#222" textLength="3.20" lengthAdjust="spacingAndGlyphs"  stroke="#222" stroke-width="0.28">49</text>
<text x="493.92" y="405.40" font-size="3.5" text-anchor="middle" font-weight="bold" fill="#222" textLength="3.20" lengthAdjust="spacingAndGlyphs"  stroke="#222" stroke-width="0.28">49</text>
<text x="413.10" y="405.40" font-size="3.5" text-anchor="middle" font-weight="bold" fill="#222" textLength="3.20" lengthAdjust="spacingAndGlyphs"  stroke="#222" stroke-width="0.28">62</text>
<text x="456.64" y="405.40" font-size="3.5" text-anchor="middle" font-weight="bold" fill="#222" textLength="3.20" lengthAdjust="spacingAndGlyphs"  stroke="#222" stroke-width="0.28">62</text>
<text x="500.30" y="405.40" font-size="3.5" text-anchor="middle" font-weight="bold" fill="#222" textLength="3.20" lengthAdjust="spacingAndGlyphs"  stroke="#222" stroke-width="0.28">62</text>
<text x="436.65" y="414.20" font-size="6.0" text-anchor="middle" font-weight="bold" fill="#111" textLength="12.70" lengthAdjust="spacingAndGlyphs"  stroke="#111" stroke-width="0.28">Days</text>
<text transform="translate(360.00,356.30) rotate(-90)" font-size="4.5" text-anchor="middle" font-weight="bold" fill="#111" stroke="#111" stroke-width="0.28" textLength="52.80" lengthAdjust="spacingAndGlyphs">Tumor volume (mm<tspan font-size="3.2" dy="-1.5">3</tspan><tspan dy="1.5">)</tspan></text>
</svg>
</body></html>
